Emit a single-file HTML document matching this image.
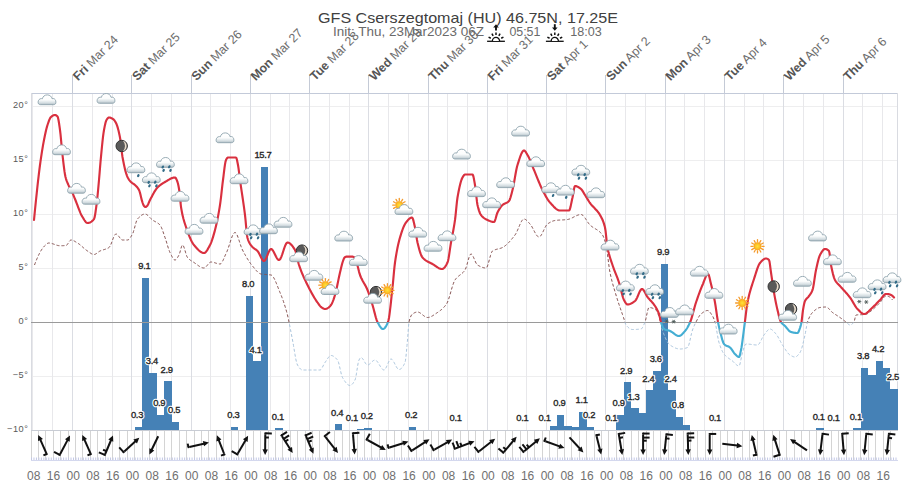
<!DOCTYPE html>
<html><head><meta charset="utf-8"><title>GFS Cserszegtomaj (HU) 46.75N, 17.25E</title>
<style>html,body{margin:0;padding:0;background:#fff;}body{width:907px;height:487px;overflow:hidden;font-family:"Liberation Sans", sans-serif;}svg{display:block;}text{font-family:"Liberation Sans", sans-serif;}</style>
</head><body>
<svg width="907" height="487" viewBox="0 0 907 487">
<defs>
<clipPath id="above"><rect x="0" y="0" width="907" height="322.3"/></clipPath>
<clipPath id="below"><rect x="0" y="322.3" width="907" height="200"/></clipPath>
<linearGradient id="cg" x1="0" y1="0" x2="0" y2="1"><stop offset="0" stop-color="#ffffff"/><stop offset="0.5" stop-color="#fcfdfd"/><stop offset="0.8" stop-color="#d6dfe3"/><stop offset="1" stop-color="#afbdc4"/></linearGradient>
<radialGradient id="sg" cx="0.5" cy="0.5" r="0.5"><stop offset="0" stop-color="#ffe23a"/><stop offset="1" stop-color="#fbb11d"/></radialGradient>
<g id="cloud"><path d="M-6.5,4.7 C-8.2,4.7 -8.9,3.6 -8.9,2.2 C-8.9,0.2 -7.6,-1.4 -5.6,-1.4 C-5.2,-1.4 -4.9,-1.35 -4.6,-1.25 C-4.2,-3.6 -2.3,-5.1 0.3,-5.1 C2.9,-5.1 4.6,-3.5 5.0,-1.3 C5.4,-1.4 5.8,-1.45 6.2,-1.45 C7.9,-1.45 8.9,0.2 8.9,2.2 C8.9,3.6 8.2,4.7 6.5,4.7 Z" fill="url(#cg)" stroke="#8fa4ae" stroke-width="0.9"/></g>
<g id="drop"><ellipse rx="1.15" ry="1.65" transform="rotate(28)" fill="#326b87"/></g>
<g id="ast" stroke="#4d5a58" stroke-width="0.9"><line x1="-2" y1="0" x2="2" y2="0"/><line x1="-1" y1="-1.75" x2="1" y2="1.75"/><line x1="1" y1="-1.75" x2="-1" y2="1.75"/></g>
<g id="sun"><g stroke="#f49a2c" stroke-width="1.3" stroke-linecap="round"><line x1="4.6" y1="0" x2="6.6" y2="0"/><line x1="3.98" y1="2.3" x2="5.72" y2="3.3"/><line x1="2.3" y1="3.98" x2="3.3" y2="5.72"/><line x1="0" y1="4.6" x2="0" y2="6.6"/><line x1="-2.3" y1="3.98" x2="-3.3" y2="5.72"/><line x1="-3.98" y1="2.3" x2="-5.72" y2="3.3"/><line x1="-4.6" y1="0" x2="-6.6" y2="0"/><line x1="-3.98" y1="-2.3" x2="-5.72" y2="-3.3"/><line x1="-2.3" y1="-3.98" x2="-3.3" y2="-5.72"/><line x1="-0" y1="-4.6" x2="-0" y2="-6.6"/><line x1="2.3" y1="-3.98" x2="3.3" y2="-5.72"/><line x1="3.98" y1="-2.3" x2="5.72" y2="-3.3"/></g><circle r="3.7" fill="url(#sg)" stroke="#f7a21f" stroke-width="0.8"/></g>
<g id="moon"><circle r="5.7" fill="#5a5a5a" stroke="#333" stroke-width="1"/><path d="M1.2,-5.2 A5.5,5.5 0 0 1 1.2,5.2 A7.5,7.5 0 0 0 1.2,-5.2 Z" fill="#e9dccb"/></g>
</defs>
<rect width="907" height="487" fill="#fff"/>
<g shape-rendering="crispEdges">
<line x1="31" y1="106.5" x2="898" y2="106.5" stroke="#eeeeef" stroke-width="1"/>
<line x1="31" y1="160.5" x2="898" y2="160.5" stroke="#eeeeef" stroke-width="1"/>
<line x1="31" y1="214.5" x2="898" y2="214.5" stroke="#eeeeef" stroke-width="1"/>
<line x1="31" y1="268.5" x2="898" y2="268.5" stroke="#eeeeef" stroke-width="1"/>
<line x1="31" y1="376.5" x2="898" y2="376.5" stroke="#eeeeef" stroke-width="1"/>
<line x1="31" y1="430.5" x2="898" y2="430.5" stroke="#eeeeef" stroke-width="1"/>
<line x1="32.99" y1="93" x2="32.99" y2="430" stroke="#e8e8eb" stroke-width="1"/>
<line x1="52.74" y1="93" x2="52.74" y2="430" stroke="#e8e8eb" stroke-width="1"/>
<line x1="92.26" y1="93" x2="92.26" y2="430" stroke="#e8e8eb" stroke-width="1"/>
<line x1="112.01" y1="93" x2="112.01" y2="430" stroke="#e8e8eb" stroke-width="1"/>
<line x1="151.53" y1="93" x2="151.53" y2="430" stroke="#e8e8eb" stroke-width="1"/>
<line x1="171.28" y1="93" x2="171.28" y2="430" stroke="#e8e8eb" stroke-width="1"/>
<line x1="210.8" y1="93" x2="210.8" y2="430" stroke="#e8e8eb" stroke-width="1"/>
<line x1="230.55" y1="93" x2="230.55" y2="430" stroke="#e8e8eb" stroke-width="1"/>
<line x1="270.07" y1="93" x2="270.07" y2="430" stroke="#e8e8eb" stroke-width="1"/>
<line x1="289.82" y1="93" x2="289.82" y2="430" stroke="#e8e8eb" stroke-width="1"/>
<line x1="329.34" y1="93" x2="329.34" y2="430" stroke="#e8e8eb" stroke-width="1"/>
<line x1="349.09" y1="93" x2="349.09" y2="430" stroke="#e8e8eb" stroke-width="1"/>
<line x1="388.61" y1="93" x2="388.61" y2="430" stroke="#e8e8eb" stroke-width="1"/>
<line x1="408.36" y1="93" x2="408.36" y2="430" stroke="#e8e8eb" stroke-width="1"/>
<line x1="447.88" y1="93" x2="447.88" y2="430" stroke="#e8e8eb" stroke-width="1"/>
<line x1="467.63" y1="93" x2="467.63" y2="430" stroke="#e8e8eb" stroke-width="1"/>
<line x1="507.15" y1="93" x2="507.15" y2="430" stroke="#e8e8eb" stroke-width="1"/>
<line x1="526.9" y1="93" x2="526.9" y2="430" stroke="#e8e8eb" stroke-width="1"/>
<line x1="566.42" y1="93" x2="566.42" y2="430" stroke="#e8e8eb" stroke-width="1"/>
<line x1="586.17" y1="93" x2="586.17" y2="430" stroke="#e8e8eb" stroke-width="1"/>
<line x1="625.69" y1="93" x2="625.69" y2="430" stroke="#e8e8eb" stroke-width="1"/>
<line x1="645.44" y1="93" x2="645.44" y2="430" stroke="#e8e8eb" stroke-width="1"/>
<line x1="684.96" y1="93" x2="684.96" y2="430" stroke="#e8e8eb" stroke-width="1"/>
<line x1="704.71" y1="93" x2="704.71" y2="430" stroke="#e8e8eb" stroke-width="1"/>
<line x1="744.23" y1="93" x2="744.23" y2="430" stroke="#e8e8eb" stroke-width="1"/>
<line x1="763.98" y1="93" x2="763.98" y2="430" stroke="#e8e8eb" stroke-width="1"/>
<line x1="803.5" y1="93" x2="803.5" y2="430" stroke="#e8e8eb" stroke-width="1"/>
<line x1="823.25" y1="93" x2="823.25" y2="430" stroke="#e8e8eb" stroke-width="1"/>
<line x1="862.77" y1="93" x2="862.77" y2="430" stroke="#e8e8eb" stroke-width="1"/>
<line x1="882.52" y1="93" x2="882.52" y2="430" stroke="#e8e8eb" stroke-width="1"/>
<line x1="72.5" y1="75" x2="72.5" y2="93" stroke="#c4cad6" stroke-width="1"/>
<line x1="72.5" y1="93" x2="72.5" y2="430" stroke="#dbdde3" stroke-width="1"/>
<line x1="131.77" y1="75" x2="131.77" y2="93" stroke="#c4cad6" stroke-width="1"/>
<line x1="131.77" y1="93" x2="131.77" y2="430" stroke="#dbdde3" stroke-width="1"/>
<line x1="191.04" y1="75" x2="191.04" y2="93" stroke="#c4cad6" stroke-width="1"/>
<line x1="191.04" y1="93" x2="191.04" y2="430" stroke="#dbdde3" stroke-width="1"/>
<line x1="250.31" y1="75" x2="250.31" y2="93" stroke="#c4cad6" stroke-width="1"/>
<line x1="250.31" y1="93" x2="250.31" y2="430" stroke="#dbdde3" stroke-width="1"/>
<line x1="309.58" y1="75" x2="309.58" y2="93" stroke="#c4cad6" stroke-width="1"/>
<line x1="309.58" y1="93" x2="309.58" y2="430" stroke="#dbdde3" stroke-width="1"/>
<line x1="368.85" y1="75" x2="368.85" y2="93" stroke="#c4cad6" stroke-width="1"/>
<line x1="368.85" y1="93" x2="368.85" y2="430" stroke="#dbdde3" stroke-width="1"/>
<line x1="428.12" y1="75" x2="428.12" y2="93" stroke="#c4cad6" stroke-width="1"/>
<line x1="428.12" y1="93" x2="428.12" y2="430" stroke="#dbdde3" stroke-width="1"/>
<line x1="487.39" y1="75" x2="487.39" y2="93" stroke="#c4cad6" stroke-width="1"/>
<line x1="487.39" y1="93" x2="487.39" y2="430" stroke="#dbdde3" stroke-width="1"/>
<line x1="546.66" y1="75" x2="546.66" y2="93" stroke="#c4cad6" stroke-width="1"/>
<line x1="546.66" y1="93" x2="546.66" y2="430" stroke="#dbdde3" stroke-width="1"/>
<line x1="605.93" y1="75" x2="605.93" y2="93" stroke="#c4cad6" stroke-width="1"/>
<line x1="605.93" y1="93" x2="605.93" y2="430" stroke="#dbdde3" stroke-width="1"/>
<line x1="665.2" y1="75" x2="665.2" y2="93" stroke="#c4cad6" stroke-width="1"/>
<line x1="665.2" y1="93" x2="665.2" y2="430" stroke="#dbdde3" stroke-width="1"/>
<line x1="724.47" y1="75" x2="724.47" y2="93" stroke="#c4cad6" stroke-width="1"/>
<line x1="724.47" y1="93" x2="724.47" y2="430" stroke="#dbdde3" stroke-width="1"/>
<line x1="783.74" y1="75" x2="783.74" y2="93" stroke="#c4cad6" stroke-width="1"/>
<line x1="783.74" y1="93" x2="783.74" y2="430" stroke="#dbdde3" stroke-width="1"/>
<line x1="843.01" y1="75" x2="843.01" y2="93" stroke="#c4cad6" stroke-width="1"/>
<line x1="843.01" y1="93" x2="843.01" y2="430" stroke="#dbdde3" stroke-width="1"/>
<line x1="31" y1="93.5" x2="898" y2="93.5" stroke="#c3cad9" stroke-width="1"/>
<line x1="31.5" y1="93" x2="31.5" y2="430" stroke="#d9dbe1" stroke-width="1"/>
<line x1="897.5" y1="93" x2="897.5" y2="430" stroke="#d9dbe1" stroke-width="1"/>
</g>
<g fill="#4581b6" shape-rendering="crispEdges">
<rect x="134.59" y="426.65" width="7.46" height="3.35"/>
<rect x="142" y="277.58" width="7.46" height="152.42"/>
<rect x="149.41" y="373.05" width="7.46" height="56.95"/>
<rect x="156.82" y="414.93" width="7.46" height="15.08"/>
<rect x="164.23" y="381.43" width="7.46" height="48.57"/>
<rect x="171.64" y="421.62" width="7.46" height="8.38"/>
<rect x="230.92" y="426.65" width="7.46" height="3.35"/>
<rect x="245.74" y="296" width="7.46" height="134"/>
<rect x="253.15" y="361.32" width="7.46" height="68.67"/>
<rect x="260.56" y="167.03" width="7.46" height="262.97"/>
<rect x="275.38" y="428.32" width="7.46" height="1.68"/>
<rect x="334.66" y="424.47" width="7.46" height="5.53"/>
<rect x="356.89" y="428.83" width="7.46" height="1.17"/>
<rect x="364.3" y="427.82" width="7.46" height="2.18"/>
<rect x="408.76" y="426.99" width="7.46" height="3.01"/>
<rect x="549.55" y="425.81" width="7.46" height="4.19"/>
<rect x="556.96" y="414.93" width="7.46" height="15.08"/>
<rect x="564.37" y="425.81" width="7.46" height="4.19"/>
<rect x="571.78" y="427.15" width="7.46" height="2.85"/>
<rect x="579.19" y="411.57" width="7.46" height="18.43"/>
<rect x="586.6" y="426.65" width="7.46" height="3.35"/>
<rect x="616.24" y="414.93" width="7.46" height="15.08"/>
<rect x="623.65" y="382.26" width="7.46" height="47.74"/>
<rect x="631.06" y="408.23" width="7.46" height="21.78"/>
<rect x="638.47" y="413.25" width="7.46" height="16.75"/>
<rect x="645.88" y="390.3" width="7.46" height="39.7"/>
<rect x="653.29" y="370.87" width="7.46" height="59.13"/>
<rect x="660.7" y="264.17" width="7.46" height="165.83"/>
<rect x="668.11" y="390.3" width="7.46" height="39.7"/>
<rect x="675.52" y="416.6" width="7.46" height="13.4"/>
<rect x="682.93" y="424.98" width="7.46" height="5.02"/>
<rect x="816.31" y="428.32" width="7.46" height="1.68"/>
<rect x="853.36" y="428.32" width="7.46" height="1.68"/>
<rect x="860.77" y="367.69" width="7.46" height="62.31"/>
<rect x="868.18" y="374.73" width="7.46" height="55.27"/>
<rect x="875.59" y="360.99" width="7.46" height="69.01"/>
<rect x="883" y="368.02" width="7.46" height="61.98"/>
<rect x="890.41" y="388.8" width="7.46" height="41.2"/>
</g>
<line x1="31" y1="322.3" x2="898" y2="322.3" stroke="#9a9a9a" stroke-width="1" shape-rendering="crispEdges"/>
<line x1="31" y1="430.5" x2="898" y2="430.5" stroke="#c8ccd4" stroke-width="1" shape-rendering="crispEdges"/>
<path d="M34.5,265 L35,263.65 L35.5,262.34 L36,261.07 L36.5,259.84 L37,258.66 L37.5,257.51 L38,256.4 L38.5,255.34 L39,254.31 L39.5,253.33 L40,252.4 L40.5,251.5 L41,250.65 L41.5,249.85 L42,249.09 L42.5,248.38 L43,247.71 L43.5,247.08 L44,246.51 L44.5,245.98 L45,245.5 L45.5,245.04 L46,244.57 L46.5,244.13 L47,243.73 L47.5,243.39 L48,243.15 L48.5,243.02 L49,243 L49.5,243.04 L50,243.09 L50.5,243.18 L51,243.29 L51.5,243.41 L52,243.56 L52.5,243.71 L53,243.88 L53.5,244.06 L54,244.24 L54.5,244.42 L55,244.6 L55.5,244.78 L56,244.95 L56.5,245.12 L57,245.27 L57.5,245.4 L58,245.52 L58.5,245.62 L59,245.69 L59.5,245.73 L60,245.75 L60.5,245.75 L61,245.74 L61.5,245.73 L62,245.72 L62.5,245.71 L63,245.69 L63.5,245.66 L64,245.64 L64.5,245.61 L65,245.58 L65.5,245.54 L66,245.5 L66.5,245.31 L67,244.88 L67.5,244.25 L68,243.5 L68.5,242.7 L69,241.9 L69.5,241.16 L70,240.56 L70.5,240.15 L71,240 L71.5,240.03 L72,240.12 L72.5,240.25 L73,240.43 L73.5,240.65 L74,240.9 L74.5,241.17 L75,241.47 L75.5,241.77 L76,242.08 L76.5,242.4 L77,242.7 L77.5,243 L78,243.3 L78.5,243.63 L79,243.99 L79.5,244.36 L80,244.76 L80.5,245.17 L81,245.6 L81.5,246.03 L82,246.48 L82.5,246.92 L83,247.37 L83.5,247.82 L84,248.26 L84.5,248.7 L85,249.13 L85.5,249.54 L86,249.94 L86.5,250.31 L87,250.67 L87.5,251 L88,251.33 L88.5,251.68 L89,252.04 L89.5,252.4 L90,252.76 L90.5,253.1 L91,253.42 L91.5,253.72 L92,253.98 L92.5,254.2 L93,254.36 L93.5,254.46 L94,254.5 L94.5,254.45 L95,254.31 L95.5,254.09 L96,253.8 L96.5,253.47 L97,253.1 L97.5,252.72 L98,252.33 L98.5,251.95 L99,251.59 L99.5,251.27 L100,251 L100.5,250.78 L101,250.57 L101.5,250.39 L102,250.22 L102.5,250.06 L103,249.91 L103.5,249.76 L104,249.61 L104.5,249.47 L105,249.31 L105.5,249.15 L106,248.98 L106.5,248.79 L107,248.58 L107.5,248.35 L108,248.1 L108.5,247.82 L109,247.5 L109.5,247.02 L110,246.26 L110.5,245.29 L111,244.14 L111.5,242.88 L112,241.53 L112.5,240.17 L113,238.82 L113.5,237.55 L114,236.4 L114.5,235.43 L115,234.67 L115.5,234.17 L116,234 L116.5,234.1 L117,234.38 L117.5,234.81 L118,235.35 L118.5,235.98 L119,236.65 L119.5,237.35 L120,238.02 L120.5,238.65 L121,239.19 L121.5,239.62 L122,239.9 L122.5,240 L123,240 L123.5,240 L124,240 L124.5,240 L125,240 L125.5,240 L126,240 L126.5,240 L127,240 L127.5,240 L128,239.91 L128.5,239.65 L129,239.24 L129.5,238.71 L130,238.07 L130.5,237.35 L131,236.56 L131.5,235.72 L132,234.86 L132.5,234 L133,232.94 L133.5,231.53 L134,229.86 L134.5,228.03 L135,226.14 L135.5,224.28 L136,222.54 L136.5,221.01 L137,219.8 L137.5,219 L138,218.44 L138.5,217.9 L139,217.39 L139.5,216.9 L140,216.44 L140.5,216.01 L141,215.62 L141.5,215.26 L142,214.94 L142.5,214.66 L143,214.43 L143.5,214.25 L144,214.11 L144.5,214.03 L145,214 L145.5,214.05 L146,214.21 L146.5,214.45 L147,214.77 L147.5,215.15 L148,215.59 L148.5,216.07 L149,216.58 L149.5,217.1 L150,217.64 L150.5,218.17 L151,218.68 L151.5,219.16 L152,219.61 L152.5,220 L153,220.35 L153.5,220.66 L154,220.96 L154.5,221.23 L155,221.5 L155.5,221.76 L156,222.02 L156.5,222.29 L157,222.58 L157.5,222.89 L158,223.23 L158.5,223.6 L159,224.02 L159.5,224.48 L160,225 L160.5,225.67 L161,226.56 L161.5,227.65 L162,228.88 L162.5,230.23 L163,231.66 L163.5,233.14 L164,234.63 L164.5,236.09 L165,237.5 L165.5,238.93 L166,240.49 L166.5,242.11 L167,243.78 L167.5,245.45 L168,247.09 L168.5,248.65 L169,250.1 L169.5,251.39 L170,252.5 L170.5,253.52 L171,254.56 L171.5,255.59 L172,256.58 L172.5,257.5 L173,258.32 L173.5,259.01 L174,259.54 L174.5,259.88 L175,260 L175.5,259.88 L176,259.55 L176.5,259.03 L177,258.38 L177.5,257.61 L178,256.77 L178.5,255.89 L179,255 L179.5,253.8 L180,252.12 L180.5,250.2 L181,248.29 L181.5,246.62 L182,245.45 L182.5,245 L183,245.3 L183.5,246.11 L184,247.32 L184.5,248.82 L185,250.5 L185.5,252.23 L186,253.91 L186.5,255.43 L187,256.66 L187.5,257.5 L188,258.07 L188.5,258.6 L189,259.07 L189.5,259.51 L190,259.91 L190.5,260.28 L191,260.62 L191.5,260.95 L192,261.26 L192.5,261.57 L193,261.87 L193.5,262.18 L194,262.5 L194.5,262.83 L195,263.18 L195.5,263.54 L196,263.9 L196.5,264.27 L197,264.64 L197.5,265.01 L198,265.37 L198.5,265.72 L199,266.06 L199.5,266.38 L200,266.69 L200.5,266.97 L201,267.22 L201.5,267.44 L202,267.64 L202.5,267.79 L203,267.9 L203.5,267.98 L204,268 L204.5,267.91 L205,267.67 L205.5,267.29 L206,266.81 L206.5,266.25 L207,265.64 L207.5,265 L208,264.36 L208.5,263.75 L209,263.19 L209.5,262.71 L210,262.33 L210.5,262.09 L211,262 L211.5,262.02 L212,262.07 L212.5,262.15 L213,262.25 L213.5,262.38 L214,262.52 L214.5,262.67 L215,262.83 L215.5,263 L216,263.17 L216.5,263.33 L217,263.48 L217.5,263.62 L218,263.75 L218.5,263.85 L219,263.93 L219.5,263.98 L220,264 L220.5,263.88 L221,263.53 L221.5,262.98 L222,262.26 L222.5,261.39 L223,260.41 L223.5,259.33 L224,258.2 L224.5,257.02 L225,255.84 L225.5,254.67 L226,253.55 L226.5,252.5 L227,251.41 L227.5,250.17 L228,248.81 L228.5,247.35 L229,245.83 L229.5,244.26 L230,242.69 L230.5,241.13 L231,239.62 L231.5,238.18 L232,236.84 L232.5,235.63 L233,234.58 L233.5,233.71 L234,233.06 L234.5,232.64 L235,232.5 L235.5,232.66 L236,233.13 L236.5,233.86 L237,234.82 L237.5,235.97 L238,237.28 L238.5,238.71 L239,240.22 L239.5,241.77 L240,243.33 L240.5,244.87 L241,246.34 L241.5,247.71 L242,248.94 L242.5,250 L243,250.95 L243.5,251.89 L244,252.82 L244.5,253.74 L245,254.64 L245.5,255.53 L246,256.4 L246.5,257.26 L247,258.1 L247.5,258.92 L248,259.73 L248.5,260.51 L249,261.28 L249.5,262.02 L250,262.74 L250.5,263.44 L251,264.12 L251.5,264.77 L252,265.4 L252.5,266 L253,266.6 L253.5,267.2 L254,267.82 L254.5,268.43 L255,269.04 L255.5,269.64 L256,270.22 L256.5,270.78 L257,271.32 L257.5,271.82 L258,272.29 L258.5,272.71 L259,273.09 L259.5,273.41 L260,273.67 L260.5,273.87 L261,274 L261.5,274.09 L262,274.16 L262.5,274.22 L263,274.28 L263.5,274.33 L264,274.37 L264.5,274.4 L265,274.43 L265.5,274.46 L266,274.49 L266.5,274.52 L267,274.55 L267.5,274.58 L268,274.62 L268.5,274.66 L269,274.71 L269.5,274.77 L270,274.83 L270.5,274.91 L271,275 L271.5,275.18 L272,275.52 L272.5,276 L273,276.62 L273.5,277.36 L274,278.21 L274.5,279.16 L275,280.19 L275.5,281.3 L276,282.46 L276.5,283.68 L277,284.93 L277.5,286.2 L278,287.48 L278.5,288.77 L279,290.04 L279.5,291.29 L280,292.5 L280.5,293.7 L281,294.93 L281.5,296.2 L282,297.5 L282.5,298.84 L283,300.22 L283.5,301.65 L284,303.12 L284.5,304.65 L285,306.22 L285.5,307.85 L286,309.55 L286.5,311.3 L287,313.12 L287.5,315 L288,317.13 L288.5,319.53 L289,322 L289.5,324.47 L290,327.01 L290.5,329.6 L291,332.22 L291.5,334.83 L292,337.44 L292.5,340 L293,342.68 L293.5,345.58 L294,348.6 L294.5,351.65 L295,354.63 L295.5,357.44 L296,359.97 L296.5,362.15 L297,363.85 L297.5,365 L298,365.81 L298.5,366.59 L299,367.31 L299.5,367.96 L300,368.54 L300.5,369.04 L301,369.44 L301.5,369.75 L302,369.94 L302.5,370 L303,370 L303.5,370 L304,370 L304.5,370 L305,370 L305.5,370 L306,370 L306.5,370 L307,370 L307.5,370 L308,370 L308.5,370 L309,370 L309.5,370 L310,370 L310.5,370 L311,370 L311.5,370 L312,370 L312.5,370 L313,370 L313.5,370 L314,370 L314.5,370 L315,370 L315.5,370 L316,370 L316.5,370 L317,370 L317.5,370 L318,370 L318.5,370 L319,370 L319.5,370 L320,370 L320.5,369.85 L321,369.43 L321.5,368.8 L322,367.99 L322.5,367.07 L323,366.09 L323.5,365.09 L324,364.12 L324.5,363.24 L325,362.5 L325.5,361.81 L326,361.07 L326.5,360.29 L327,359.51 L327.5,358.75 L328,358.01 L328.5,357.33 L329,356.73 L329.5,356.22 L330,355.84 L330.5,355.59 L331,355.5 L331.5,355.53 L332,355.63 L332.5,355.79 L333,356.01 L333.5,356.28 L334,356.6 L334.5,356.97 L335,357.39 L335.5,357.84 L336,358.33 L336.5,358.86 L337,359.42 L337.5,360 L338,360.9 L338.5,362.31 L339,364.12 L339.5,366.2 L340,368.43 L340.5,370.69 L341,372.85 L341.5,374.79 L342,376.38 L342.5,377.5 L343,378.34 L343.5,379.16 L344,379.96 L344.5,380.73 L345,381.46 L345.5,382.15 L346,382.79 L346.5,383.38 L347,383.9 L347.5,384.37 L348,384.76 L348.5,385.07 L349,385.31 L349.5,385.45 L350,385.5 L350.5,385.43 L351,385.22 L351.5,384.89 L352,384.45 L352.5,383.9 L353,383.27 L353.5,382.55 L354,381.75 L354.5,380.9 L355,380 L355.5,378.54 L356,376.19 L356.5,373.25 L357,370.01 L357.5,366.78 L358,363.83 L358.5,361.48 L359,360 L359.5,359.08 L360,358.28 L360.5,357.71 L361,357.5 L361.5,357.63 L362,357.98 L362.5,358.51 L363,359.19 L363.5,359.97 L364,360.82 L364.5,361.68 L365,362.53 L365.5,363.31 L366,363.99 L366.5,364.52 L367,364.87 L367.5,365 L368,364.94 L368.5,364.76 L369,364.48 L369.5,364.12 L370,363.7 L370.5,363.24 L371,362.75 L371.5,362.25 L372,361.76 L372.5,361.3 L373,360.88 L373.5,360.52 L374,360.24 L374.5,360.06 L375,360 L375.5,360.09 L376,360.34 L376.5,360.74 L377,361.26 L377.5,361.89 L378,362.59 L378.5,363.36 L379,364.17 L379.5,365 L380,365.83 L380.5,366.64 L381,367.41 L381.5,368.11 L382,368.74 L382.5,369.26 L383,369.66 L383.5,369.91 L384,370 L384.5,369.84 L385,369.39 L385.5,368.7 L386,367.82 L386.5,366.79 L387,365.67 L387.5,364.5 L388,363.33 L388.5,362.21 L389,361.18 L389.5,360.3 L390,359.61 L390.5,359.16 L391,359 L391.5,359.12 L392,359.45 L392.5,359.97 L393,360.64 L393.5,361.44 L394,362.32 L394.5,363.27 L395,364.25 L395.5,365.23 L396,366.18 L396.5,367.06 L397,367.86 L397.5,368.53 L398,369.05 L398.5,369.38 L399,369.5 L399.5,369.45 L400,369.3 L400.5,369.06 L401,368.71 L401.5,368.27 L402,367.73 L402.5,367.1 L403,366.37 L403.5,365.54 L404,364.62 L404.5,363.61 L405,362.5 L405.5,360.25 L406,356.25 L406.5,351.11 L407,345.49 L407.5,340 L408,333.49 L408.5,326.45 L409,322 L409.5,320.05 L410,318.4 L410.5,317.04 L411,315.95 L411.5,315.09 L412,314.45 L412.5,314 L413,313.66 L413.5,313.34 L414,313.05 L414.5,312.78 L415,312.56 L415.5,312.36 L416,312.21 L416.5,312.09 L417,312.02 L417.5,312 L418,312.04 L418.5,312.15 L419,312.33 L419.5,312.57 L420,312.86 L420.5,313.19 L421,313.55 L421.5,313.94 L422,314.34 L422.5,314.75 L423,315.16 L423.5,315.56 L424,315.95 L424.5,316.31 L425,316.64 L425.5,316.93 L426,317.17 L426.5,317.35 L427,317.46 L427.5,317.5 L428,317.48 L428.5,317.42 L429,317.32 L429.5,317.19 L430,317.03 L430.5,316.83 L431,316.61 L431.5,316.37 L432,316.11 L432.5,315.82 L433,315.52 L433.5,315.21 L434,314.88 L434.5,314.55 L435,314.21 L435.5,313.86 L436,313.52 L436.5,313.17 L437,312.83 L437.5,312.5 L438,312.17 L438.5,311.83 L439,311.48 L439.5,311.12 L440,310.75 L440.5,310.37 L441,309.97 L441.5,309.55 L442,309.11 L442.5,308.65 L443,308.17 L443.5,307.66 L444,307.13 L444.5,306.57 L445,305.97 L445.5,305.35 L446,304.69 L446.5,304 L447,303.17 L447.5,302.13 L448,300.9 L448.5,299.51 L449,298 L449.5,296.38 L450,294.69 L450.5,292.95 L451,291.2 L451.5,289.46 L452,287.76 L452.5,286.13 L453,284.6 L453.5,283.19 L454,281.94 L454.5,280.86 L455,280 L455.5,279.29 L456,278.64 L456.5,278.06 L457,277.53 L457.5,277.04 L458,276.59 L458.5,276.17 L459,275.78 L459.5,275.39 L460,275.02 L460.5,274.64 L461,274.26 L461.5,273.86 L462,273.44 L462.5,272.99 L463,272.5 L463.5,271.96 L464,271.37 L464.5,270.72 L465,270 L465.5,269.05 L466,267.76 L466.5,266.22 L467,264.51 L467.5,262.7 L468,260.87 L468.5,259.1 L469,257.48 L469.5,256.07 L470,254.98 L470.5,254.26 L471,254 L471.5,254.16 L472,254.62 L472.5,255.33 L473,256.23 L473.5,257.27 L474,258.42 L474.5,259.61 L475,260.8 L475.5,261.94 L476,262.98 L476.5,263.87 L477,264.56 L477.5,265 L478,265.3 L478.5,265.58 L479,265.86 L479.5,266.12 L480,266.38 L480.5,266.61 L481,266.84 L481.5,267.04 L482,267.23 L482.5,267.4 L483,267.55 L483.5,267.69 L484,267.8 L484.5,267.88 L485,267.95 L485.5,267.99 L486,268 L486.5,267.74 L487,267 L487.5,265.88 L488,264.44 L488.5,262.78 L489,260.97 L489.5,259.09 L490,257.23 L490.5,255.46 L491,253.88 L491.5,252.55 L492,251.56 L492.5,251 L493,250.69 L493.5,250.42 L494,250.18 L494.5,249.96 L495,249.77 L495.5,249.61 L496,249.45 L496.5,249.32 L497,249.19 L497.5,249.07 L498,248.95 L498.5,248.84 L499,248.72 L499.5,248.59 L500,248.46 L500.5,248.31 L501,248.14 L501.5,247.95 L502,247.74 L502.5,247.5 L503,247.23 L503.5,246.94 L504,246.62 L504.5,246.27 L505,245.9 L505.5,245.51 L506,245.1 L506.5,244.67 L507,244.21 L507.5,243.74 L508,243.25 L508.5,242.74 L509,242.22 L509.5,241.68 L510,241.13 L510.5,240.56 L511,239.98 L511.5,239.39 L512,238.79 L512.5,238.18 L513,237.55 L513.5,236.93 L514,236.29 L514.5,235.65 L515,235 L515.5,234.28 L516,233.42 L516.5,232.46 L517,231.41 L517.5,230.29 L518,229.12 L518.5,227.92 L519,226.72 L519.5,225.54 L520,224.39 L520.5,223.3 L521,222.28 L521.5,221.37 L522,220.57 L522.5,219.91 L523,219.42 L523.5,219.11 L524,219 L524.5,219.06 L525,219.23 L525.5,219.49 L526,219.83 L526.5,220.25 L527,220.72 L527.5,221.24 L528,221.78 L528.5,222.34 L529,222.91 L529.5,223.47 L530,224 L530.5,224.58 L531,225.27 L531.5,226.04 L532,226.9 L532.5,227.81 L533,228.75 L533.5,229.73 L534,230.7 L534.5,231.67 L535,232.6 L535.5,233.49 L536,234.32 L536.5,235.07 L537,235.72 L537.5,236.25 L538,236.66 L538.5,236.91 L539,237 L539.5,236.89 L540,236.58 L540.5,236.08 L541,235.43 L541.5,234.65 L542,233.77 L542.5,232.8 L543,231.78 L543.5,230.72 L544,229.65 L544.5,228.6 L545,227.59 L545.5,226.65 L546,225.79 L546.5,225.05 L547,224.44 L547.5,224 L548,223.65 L548.5,223.32 L549,222.99 L549.5,222.68 L550,222.39 L550.5,222.11 L551,221.85 L551.5,221.6 L552,221.38 L552.5,221.18 L553,220.99 L553.5,220.83 L554,220.7 L554.5,220.59 L555,220.5 L555.5,220.43 L556,220.37 L556.5,220.31 L557,220.26 L557.5,220.22 L558,220.17 L558.5,220.14 L559,220.1 L559.5,220.07 L560,220.04 L560.5,220.02 L561,219.99 L561.5,219.96 L562,219.94 L562.5,219.91 L563,219.89 L563.5,219.86 L564,219.83 L564.5,219.79 L565,219.75 L565.5,219.71 L566,219.67 L566.5,219.62 L567,219.56 L567.5,219.5 L568,219.42 L568.5,219.31 L569,219.17 L569.5,219.01 L570,218.83 L570.5,218.63 L571,218.42 L571.5,218.18 L572,217.94 L572.5,217.69 L573,217.43 L573.5,217.17 L574,216.91 L574.5,216.65 L575,216.39 L575.5,216.14 L576,215.9 L576.5,215.67 L577,215.45 L577.5,215.25 L578,215.06 L578.5,214.9 L579,214.76 L579.5,214.65 L580,214.57 L580.5,214.52 L581,214.5 L581.5,214.57 L582,214.77 L582.5,215.08 L583,215.49 L583.5,216 L584,216.58 L584.5,217.23 L585,217.93 L585.5,218.67 L586,219.44 L586.5,220.22 L587,221 L587.5,221.77 L588,222.51 L588.5,223.22 L589,223.88 L589.5,224.48 L590,225 L590.5,225.46 L591,225.89 L591.5,226.29 L592,226.66 L592.5,227.02 L593,227.35 L593.5,227.67 L594,227.97 L594.5,228.27 L595,228.57 L595.5,228.86 L596,229.16 L596.5,229.47 L597,229.78 L597.5,230.12 L598,230.46 L598.5,230.83 L599,231.23 L599.5,231.65 L600,232.11 L600.5,232.6 L601,233.13 L601.5,233.71 L602,234.33 L602.5,235 L603,235.82 L603.5,236.88 L604,238.15 L604.5,239.62 L605,241.26 L605.5,243.06 L606,245 L606.5,247.44 L607,250.62 L607.5,254.3 L608,258.28 L608.5,262.3 L609,266.17 L609.5,269.64 L610,272.5 L610.5,274.89 L611,277.14 L611.5,279.25 L612,281.24 L612.5,283.14 L613,284.95 L613.5,286.69 L614,288.39 L614.5,290.05 L615,291.69 L615.5,293.34 L616,295 L616.5,296.65 L617,298.27 L617.5,299.85 L618,301.39 L618.5,302.91 L619,304.41 L619.5,305.89 L620,307.35 L620.5,308.8 L621,310.25 L621.5,311.69 L622,313.13 L622.5,314.58 L623,316.04 L623.5,317.51 L624,319 L624.5,320.66 L625,322.43 L625.5,323.99 L626,325 L626.5,325.61 L627,326.19 L627.5,326.73 L628,327.23 L628.5,327.68 L629,328.09 L629.5,328.45 L630,328.76 L630.5,329.02 L631,329.23 L631.5,329.38 L632,329.47 L632.5,329.5 L633,329.5 L633.5,329.49 L634,329.49 L634.5,329.48 L635,329.46 L635.5,329.44 L636,329.42 L636.5,329.4 L637,329.37 L637.5,329.34 L638,329.3 L638.5,329.26 L639,329.22 L639.5,329.17 L640,329.12 L640.5,329.06 L641,329 L641.5,328.78 L642,328.28 L642.5,327.54 L643,326.62 L643.5,325.55 L644,324.4 L644.5,323.2 L645,322 L645.5,320.47 L646,318.41 L646.5,316.03 L647,313.57 L647.5,311.26 L648,309.32 L648.5,307.99 L649,307.5 L649.5,307.51 L650,307.56 L650.5,307.63 L651,307.72 L651.5,307.84 L652,307.99 L652.5,308.16 L653,308.36 L653.5,308.58 L654,308.82 L654.5,309.08 L655,309.37 L655.5,309.67 L656,310 L656.5,310.52 L657,311.36 L657.5,312.46 L658,313.78 L658.5,315.25 L659,316.81 L659.5,318.42 L660,320 L660.5,321.78 L661,323.9 L661.5,326.17 L662,328.4 L662.5,330.4 L663,332 L663.5,333.32 L664,334.6 L664.5,335.83 L665,337.02 L665.5,338.15 L666,339.23 L666.5,340.23 L667,341.17 L667.5,342.03 L668,342.81 L668.5,343.5 L669,344.1 L669.5,344.6 L670,345 L670.5,345.34 L671,345.67 L671.5,345.98 L672,346.29 L672.5,346.59 L673,346.87 L673.5,347.14 L674,347.39 L674.5,347.63 L675,347.86 L675.5,348.06 L676,348.25 L676.5,348.42 L677,348.57 L677.5,348.7 L678,348.8 L678.5,348.89 L679,348.95 L679.5,348.99 L680,349 L680.5,348.99 L681,348.97 L681.5,348.94 L682,348.89 L682.5,348.83 L683,348.76 L683.5,348.68 L684,348.58 L684.5,348.46 L685,348.34 L685.5,348.2 L686,348.04 L686.5,347.88 L687,347.69 L687.5,347.5 L688,346.97 L688.5,345.86 L689,344.28 L689.5,342.36 L690,340.21 L690.5,337.93 L691,335.66 L691.5,333.5 L692,331.58 L692.5,330 L693,328.67 L693.5,327.41 L694,326.21 L694.5,325.08 L695,324 L695.5,322.97 L696,322 L696.5,321.04 L697,320.08 L697.5,319.13 L698,318.21 L698.5,317.33 L699,316.5 L699.5,315.73 L700,315.05 L700.5,314.47 L701,314 L701.5,313.59 L702,313.19 L702.5,312.8 L703,312.42 L703.5,312.07 L704,311.74 L704.5,311.43 L705,311.17 L705.5,310.94 L706,310.75 L706.5,310.62 L707,310.53 L707.5,310.5 L708,310.58 L708.5,310.82 L709,311.19 L709.5,311.68 L710,312.27 L710.5,312.93 L711,313.66 L711.5,314.42 L712,315.21 L712.5,316 L713,316.87 L713.5,317.92 L714,319.12 L714.5,320.48 L715,322 L715.5,323.92 L716,326.39 L716.5,329.22 L717,332.23 L717.5,335.24 L718,338.08 L718.5,340.56 L719,342.5 L719.5,344.07 L720,345.55 L720.5,346.95 L721,348.26 L721.5,349.47 L722,350.59 L722.5,351.6 L723,352.51 L723.5,353.31 L724,354 L724.5,354.61 L725,355.17 L725.5,355.69 L726,356.17 L726.5,356.62 L727,357.04 L727.5,357.44 L728,357.82 L728.5,358.18 L729,358.53 L729.5,358.87 L730,359.21 L730.5,359.55 L731,359.89 L731.5,360.25 L732,360.61 L732.5,361 L733,361.42 L733.5,361.89 L734,362.38 L734.5,362.89 L735,363.4 L735.5,363.9 L736,364.38 L736.5,364.82 L737,365.21 L737.5,365.54 L738,365.78 L738.5,365.94 L739,366 L739.5,365.43 L740,363.93 L740.5,361.78 L741,359.27 L741.5,356.7 L742,354.34 L742.5,352.5 L743,350.93 L743.5,349.29 L744,347.69 L744.5,346.25 L745,345.08 L745.5,344.29 L746,344 L746.5,344.01 L747,344.02 L747.5,344.05 L748,344.08 L748.5,344.12 L749,344.17 L749.5,344.22 L750,344.28 L750.5,344.34 L751,344.4 L751.5,344.47 L752,344.53 L752.5,344.6 L753,344.66 L753.5,344.72 L754,344.78 L754.5,344.83 L755,344.88 L755.5,344.92 L756,344.95 L756.5,344.98 L757,344.99 L757.5,345 L758,344.87 L758.5,344.52 L759,343.97 L759.5,343.26 L760,342.42 L760.5,341.48 L761,340.48 L761.5,339.44 L762,338.42 L762.5,337.42 L763,336.5 L763.5,335.68 L764,335 L764.5,334.37 L765,333.72 L765.5,333.04 L766,332.37 L766.5,331.71 L767,331.09 L767.5,330.52 L768,330.02 L768.5,329.6 L769,329.28 L769.5,329.07 L770,329 L770.5,329.06 L771,329.22 L771.5,329.47 L772,329.8 L772.5,330.21 L773,330.67 L773.5,331.17 L774,331.72 L774.5,332.28 L775,332.86 L775.5,333.43 L776,334 L776.5,334.61 L777,335.3 L777.5,336.08 L778,336.91 L778.5,337.8 L779,338.72 L779.5,339.66 L780,340.61 L780.5,341.56 L781,342.48 L781.5,343.37 L782,344.22 L782.5,345 L783,345.76 L783.5,346.54 L784,347.33 L784.5,348.13 L785,348.92 L785.5,349.71 L786,350.47 L786.5,351.21 L787,351.92 L787.5,352.58 L788,353.19 L788.5,353.75 L789,354.24 L789.5,354.66 L790,355 L790.5,355.3 L791,355.59 L791.5,355.87 L792,356.13 L792.5,356.37 L793,356.58 L793.5,356.76 L794,356.89 L794.5,356.97 L795,357 L795.5,356.94 L796,356.76 L796.5,356.48 L797,356.1 L797.5,355.64 L798,355.11 L798.5,354.52 L799,353.88 L799.5,353.21 L800,352.5 L800.5,351.62 L801,350.45 L801.5,349.01 L802,347.36 L802.5,345.53 L803,343.55 L803.5,341.47 L804,339.33 L804.5,337.16 L805,335 L805.5,332.51 L806,329.59 L806.5,326.61 L807,323.95 L807.5,322 L808,320.59 L808.5,319.3 L809,318.11 L809.5,317.03 L810,316.05 L810.5,315.17 L811,314.38 L811.5,313.67 L812,313.05 L812.5,312.5 L813,312 L813.5,311.51 L814,311.04 L814.5,310.58 L815,310.15 L815.5,309.74 L816,309.36 L816.5,309.01 L817,308.68 L817.5,308.39 L818,308.13 L818.5,307.91 L819,307.73 L819.5,307.59 L820,307.5 L820.5,307.43 L821,307.36 L821.5,307.3 L822,307.24 L822.5,307.19 L823,307.14 L823.5,307.1 L824,307.07 L824.5,307.04 L825,307.02 L825.5,307 L826,307 L826.5,307.07 L827,307.25 L827.5,307.54 L828,307.92 L828.5,308.37 L829,308.88 L829.5,309.42 L830,309.98 L830.5,310.54 L831,311.09 L831.5,311.61 L832,312.09 L832.5,312.5 L833,312.87 L833.5,313.22 L834,313.57 L834.5,313.9 L835,314.23 L835.5,314.56 L836,314.88 L836.5,315.2 L837,315.51 L837.5,315.83 L838,316.15 L838.5,316.48 L839,316.81 L839.5,317.15 L840,317.5 L840.5,317.86 L841,318.22 L841.5,318.59 L842,318.96 L842.5,319.34 L843,319.72 L843.5,320.1 L844,320.48 L844.5,320.86 L845,321.24 L845.5,321.62 L846,322 L846.5,322.42 L847,322.89 L847.5,323.39 L848,323.88 L848.5,324.31 L849,324.67 L849.5,324.91 L850,325 L850.5,324.94 L851,324.78 L851.5,324.52 L852,324.17 L852.5,323.73 L853,323.22 L853.5,322.64 L854,322 L854.5,320.54 L855,318.2 L855.5,316.01 L856,315 L856.5,314.94 L857,314.88 L857.5,314.84 L858,314.81 L858.5,314.78 L859,314.75 L859.5,314.74 L860,314.72 L860.5,314.71 L861,314.7 L861.5,314.69 L862,314.67 L862.5,314.66 L863,314.64 L863.5,314.61 L864,314.58 L864.5,314.55 L865,314.5 L865.5,314.42 L866,314.3 L866.5,314.13 L867,313.91 L867.5,313.66 L868,313.37 L868.5,313.05 L869,312.7 L869.5,312.32 L870,311.92 L870.5,311.51 L871,311.08 L871.5,310.63 L872,310.18 L872.5,309.73 L873,309.27 L873.5,308.82 L874,308.37 L874.5,307.93 L875,307.5 L875.5,307.07 L876,306.61 L876.5,306.13 L877,305.63 L877.5,305.12 L878,304.6 L878.5,304.08 L879,303.55 L879.5,303.02 L880,302.5 L880.5,301.94 L881,301.3 L881.5,300.61 L882,299.89 L882.5,299.17 L883,298.47 L883.5,297.81 L884,297.22 L884.5,296.72 L885,296.34 L885.5,296.09 L886,296 L886.5,296.01 L887,296.06 L887.5,296.14 L888,296.26 L888.5,296.43 L889,296.65 L889.5,296.93 L890,297.26 L890.5,297.66 L891,298.13 L891.5,298.67 L892,299.29 L892.5,300" fill="none" stroke="#84504f" stroke-width="1" stroke-dasharray="3,2" clip-path="url(#above)"/>
<path d="M34.5,265 L35,263.65 L35.5,262.34 L36,261.07 L36.5,259.84 L37,258.66 L37.5,257.51 L38,256.4 L38.5,255.34 L39,254.31 L39.5,253.33 L40,252.4 L40.5,251.5 L41,250.65 L41.5,249.85 L42,249.09 L42.5,248.38 L43,247.71 L43.5,247.08 L44,246.51 L44.5,245.98 L45,245.5 L45.5,245.04 L46,244.57 L46.5,244.13 L47,243.73 L47.5,243.39 L48,243.15 L48.5,243.02 L49,243 L49.5,243.04 L50,243.09 L50.5,243.18 L51,243.29 L51.5,243.41 L52,243.56 L52.5,243.71 L53,243.88 L53.5,244.06 L54,244.24 L54.5,244.42 L55,244.6 L55.5,244.78 L56,244.95 L56.5,245.12 L57,245.27 L57.5,245.4 L58,245.52 L58.5,245.62 L59,245.69 L59.5,245.73 L60,245.75 L60.5,245.75 L61,245.74 L61.5,245.73 L62,245.72 L62.5,245.71 L63,245.69 L63.5,245.66 L64,245.64 L64.5,245.61 L65,245.58 L65.5,245.54 L66,245.5 L66.5,245.31 L67,244.88 L67.5,244.25 L68,243.5 L68.5,242.7 L69,241.9 L69.5,241.16 L70,240.56 L70.5,240.15 L71,240 L71.5,240.03 L72,240.12 L72.5,240.25 L73,240.43 L73.5,240.65 L74,240.9 L74.5,241.17 L75,241.47 L75.5,241.77 L76,242.08 L76.5,242.4 L77,242.7 L77.5,243 L78,243.3 L78.5,243.63 L79,243.99 L79.5,244.36 L80,244.76 L80.5,245.17 L81,245.6 L81.5,246.03 L82,246.48 L82.5,246.92 L83,247.37 L83.5,247.82 L84,248.26 L84.5,248.7 L85,249.13 L85.5,249.54 L86,249.94 L86.5,250.31 L87,250.67 L87.5,251 L88,251.33 L88.5,251.68 L89,252.04 L89.5,252.4 L90,252.76 L90.5,253.1 L91,253.42 L91.5,253.72 L92,253.98 L92.5,254.2 L93,254.36 L93.5,254.46 L94,254.5 L94.5,254.45 L95,254.31 L95.5,254.09 L96,253.8 L96.5,253.47 L97,253.1 L97.5,252.72 L98,252.33 L98.5,251.95 L99,251.59 L99.5,251.27 L100,251 L100.5,250.78 L101,250.57 L101.5,250.39 L102,250.22 L102.5,250.06 L103,249.91 L103.5,249.76 L104,249.61 L104.5,249.47 L105,249.31 L105.5,249.15 L106,248.98 L106.5,248.79 L107,248.58 L107.5,248.35 L108,248.1 L108.5,247.82 L109,247.5 L109.5,247.02 L110,246.26 L110.5,245.29 L111,244.14 L111.5,242.88 L112,241.53 L112.5,240.17 L113,238.82 L113.5,237.55 L114,236.4 L114.5,235.43 L115,234.67 L115.5,234.17 L116,234 L116.5,234.1 L117,234.38 L117.5,234.81 L118,235.35 L118.5,235.98 L119,236.65 L119.5,237.35 L120,238.02 L120.5,238.65 L121,239.19 L121.5,239.62 L122,239.9 L122.5,240 L123,240 L123.5,240 L124,240 L124.5,240 L125,240 L125.5,240 L126,240 L126.5,240 L127,240 L127.5,240 L128,239.91 L128.5,239.65 L129,239.24 L129.5,238.71 L130,238.07 L130.5,237.35 L131,236.56 L131.5,235.72 L132,234.86 L132.5,234 L133,232.94 L133.5,231.53 L134,229.86 L134.5,228.03 L135,226.14 L135.5,224.28 L136,222.54 L136.5,221.01 L137,219.8 L137.5,219 L138,218.44 L138.5,217.9 L139,217.39 L139.5,216.9 L140,216.44 L140.5,216.01 L141,215.62 L141.5,215.26 L142,214.94 L142.5,214.66 L143,214.43 L143.5,214.25 L144,214.11 L144.5,214.03 L145,214 L145.5,214.05 L146,214.21 L146.5,214.45 L147,214.77 L147.5,215.15 L148,215.59 L148.5,216.07 L149,216.58 L149.5,217.1 L150,217.64 L150.5,218.17 L151,218.68 L151.5,219.16 L152,219.61 L152.5,220 L153,220.35 L153.5,220.66 L154,220.96 L154.5,221.23 L155,221.5 L155.5,221.76 L156,222.02 L156.5,222.29 L157,222.58 L157.5,222.89 L158,223.23 L158.5,223.6 L159,224.02 L159.5,224.48 L160,225 L160.5,225.67 L161,226.56 L161.5,227.65 L162,228.88 L162.5,230.23 L163,231.66 L163.5,233.14 L164,234.63 L164.5,236.09 L165,237.5 L165.5,238.93 L166,240.49 L166.5,242.11 L167,243.78 L167.5,245.45 L168,247.09 L168.5,248.65 L169,250.1 L169.5,251.39 L170,252.5 L170.5,253.52 L171,254.56 L171.5,255.59 L172,256.58 L172.5,257.5 L173,258.32 L173.5,259.01 L174,259.54 L174.5,259.88 L175,260 L175.5,259.88 L176,259.55 L176.5,259.03 L177,258.38 L177.5,257.61 L178,256.77 L178.5,255.89 L179,255 L179.5,253.8 L180,252.12 L180.5,250.2 L181,248.29 L181.5,246.62 L182,245.45 L182.5,245 L183,245.3 L183.5,246.11 L184,247.32 L184.5,248.82 L185,250.5 L185.5,252.23 L186,253.91 L186.5,255.43 L187,256.66 L187.5,257.5 L188,258.07 L188.5,258.6 L189,259.07 L189.5,259.51 L190,259.91 L190.5,260.28 L191,260.62 L191.5,260.95 L192,261.26 L192.5,261.57 L193,261.87 L193.5,262.18 L194,262.5 L194.5,262.83 L195,263.18 L195.5,263.54 L196,263.9 L196.5,264.27 L197,264.64 L197.5,265.01 L198,265.37 L198.5,265.72 L199,266.06 L199.5,266.38 L200,266.69 L200.5,266.97 L201,267.22 L201.5,267.44 L202,267.64 L202.5,267.79 L203,267.9 L203.5,267.98 L204,268 L204.5,267.91 L205,267.67 L205.5,267.29 L206,266.81 L206.5,266.25 L207,265.64 L207.5,265 L208,264.36 L208.5,263.75 L209,263.19 L209.5,262.71 L210,262.33 L210.5,262.09 L211,262 L211.5,262.02 L212,262.07 L212.5,262.15 L213,262.25 L213.5,262.38 L214,262.52 L214.5,262.67 L215,262.83 L215.5,263 L216,263.17 L216.5,263.33 L217,263.48 L217.5,263.62 L218,263.75 L218.5,263.85 L219,263.93 L219.5,263.98 L220,264 L220.5,263.88 L221,263.53 L221.5,262.98 L222,262.26 L222.5,261.39 L223,260.41 L223.5,259.33 L224,258.2 L224.5,257.02 L225,255.84 L225.5,254.67 L226,253.55 L226.5,252.5 L227,251.41 L227.5,250.17 L228,248.81 L228.5,247.35 L229,245.83 L229.5,244.26 L230,242.69 L230.5,241.13 L231,239.62 L231.5,238.18 L232,236.84 L232.5,235.63 L233,234.58 L233.5,233.71 L234,233.06 L234.5,232.64 L235,232.5 L235.5,232.66 L236,233.13 L236.5,233.86 L237,234.82 L237.5,235.97 L238,237.28 L238.5,238.71 L239,240.22 L239.5,241.77 L240,243.33 L240.5,244.87 L241,246.34 L241.5,247.71 L242,248.94 L242.5,250 L243,250.95 L243.5,251.89 L244,252.82 L244.5,253.74 L245,254.64 L245.5,255.53 L246,256.4 L246.5,257.26 L247,258.1 L247.5,258.92 L248,259.73 L248.5,260.51 L249,261.28 L249.5,262.02 L250,262.74 L250.5,263.44 L251,264.12 L251.5,264.77 L252,265.4 L252.5,266 L253,266.6 L253.5,267.2 L254,267.82 L254.5,268.43 L255,269.04 L255.5,269.64 L256,270.22 L256.5,270.78 L257,271.32 L257.5,271.82 L258,272.29 L258.5,272.71 L259,273.09 L259.5,273.41 L260,273.67 L260.5,273.87 L261,274 L261.5,274.09 L262,274.16 L262.5,274.22 L263,274.28 L263.5,274.33 L264,274.37 L264.5,274.4 L265,274.43 L265.5,274.46 L266,274.49 L266.5,274.52 L267,274.55 L267.5,274.58 L268,274.62 L268.5,274.66 L269,274.71 L269.5,274.77 L270,274.83 L270.5,274.91 L271,275 L271.5,275.18 L272,275.52 L272.5,276 L273,276.62 L273.5,277.36 L274,278.21 L274.5,279.16 L275,280.19 L275.5,281.3 L276,282.46 L276.5,283.68 L277,284.93 L277.5,286.2 L278,287.48 L278.5,288.77 L279,290.04 L279.5,291.29 L280,292.5 L280.5,293.7 L281,294.93 L281.5,296.2 L282,297.5 L282.5,298.84 L283,300.22 L283.5,301.65 L284,303.12 L284.5,304.65 L285,306.22 L285.5,307.85 L286,309.55 L286.5,311.3 L287,313.12 L287.5,315 L288,317.13 L288.5,319.53 L289,322 L289.5,324.47 L290,327.01 L290.5,329.6 L291,332.22 L291.5,334.83 L292,337.44 L292.5,340 L293,342.68 L293.5,345.58 L294,348.6 L294.5,351.65 L295,354.63 L295.5,357.44 L296,359.97 L296.5,362.15 L297,363.85 L297.5,365 L298,365.81 L298.5,366.59 L299,367.31 L299.5,367.96 L300,368.54 L300.5,369.04 L301,369.44 L301.5,369.75 L302,369.94 L302.5,370 L303,370 L303.5,370 L304,370 L304.5,370 L305,370 L305.5,370 L306,370 L306.5,370 L307,370 L307.5,370 L308,370 L308.5,370 L309,370 L309.5,370 L310,370 L310.5,370 L311,370 L311.5,370 L312,370 L312.5,370 L313,370 L313.5,370 L314,370 L314.5,370 L315,370 L315.5,370 L316,370 L316.5,370 L317,370 L317.5,370 L318,370 L318.5,370 L319,370 L319.5,370 L320,370 L320.5,369.85 L321,369.43 L321.5,368.8 L322,367.99 L322.5,367.07 L323,366.09 L323.5,365.09 L324,364.12 L324.5,363.24 L325,362.5 L325.5,361.81 L326,361.07 L326.5,360.29 L327,359.51 L327.5,358.75 L328,358.01 L328.5,357.33 L329,356.73 L329.5,356.22 L330,355.84 L330.5,355.59 L331,355.5 L331.5,355.53 L332,355.63 L332.5,355.79 L333,356.01 L333.5,356.28 L334,356.6 L334.5,356.97 L335,357.39 L335.5,357.84 L336,358.33 L336.5,358.86 L337,359.42 L337.5,360 L338,360.9 L338.5,362.31 L339,364.12 L339.5,366.2 L340,368.43 L340.5,370.69 L341,372.85 L341.5,374.79 L342,376.38 L342.5,377.5 L343,378.34 L343.5,379.16 L344,379.96 L344.5,380.73 L345,381.46 L345.5,382.15 L346,382.79 L346.5,383.38 L347,383.9 L347.5,384.37 L348,384.76 L348.5,385.07 L349,385.31 L349.5,385.45 L350,385.5 L350.5,385.43 L351,385.22 L351.5,384.89 L352,384.45 L352.5,383.9 L353,383.27 L353.5,382.55 L354,381.75 L354.5,380.9 L355,380 L355.5,378.54 L356,376.19 L356.5,373.25 L357,370.01 L357.5,366.78 L358,363.83 L358.5,361.48 L359,360 L359.5,359.08 L360,358.28 L360.5,357.71 L361,357.5 L361.5,357.63 L362,357.98 L362.5,358.51 L363,359.19 L363.5,359.97 L364,360.82 L364.5,361.68 L365,362.53 L365.5,363.31 L366,363.99 L366.5,364.52 L367,364.87 L367.5,365 L368,364.94 L368.5,364.76 L369,364.48 L369.5,364.12 L370,363.7 L370.5,363.24 L371,362.75 L371.5,362.25 L372,361.76 L372.5,361.3 L373,360.88 L373.5,360.52 L374,360.24 L374.5,360.06 L375,360 L375.5,360.09 L376,360.34 L376.5,360.74 L377,361.26 L377.5,361.89 L378,362.59 L378.5,363.36 L379,364.17 L379.5,365 L380,365.83 L380.5,366.64 L381,367.41 L381.5,368.11 L382,368.74 L382.5,369.26 L383,369.66 L383.5,369.91 L384,370 L384.5,369.84 L385,369.39 L385.5,368.7 L386,367.82 L386.5,366.79 L387,365.67 L387.5,364.5 L388,363.33 L388.5,362.21 L389,361.18 L389.5,360.3 L390,359.61 L390.5,359.16 L391,359 L391.5,359.12 L392,359.45 L392.5,359.97 L393,360.64 L393.5,361.44 L394,362.32 L394.5,363.27 L395,364.25 L395.5,365.23 L396,366.18 L396.5,367.06 L397,367.86 L397.5,368.53 L398,369.05 L398.5,369.38 L399,369.5 L399.5,369.45 L400,369.3 L400.5,369.06 L401,368.71 L401.5,368.27 L402,367.73 L402.5,367.1 L403,366.37 L403.5,365.54 L404,364.62 L404.5,363.61 L405,362.5 L405.5,360.25 L406,356.25 L406.5,351.11 L407,345.49 L407.5,340 L408,333.49 L408.5,326.45 L409,322 L409.5,320.05 L410,318.4 L410.5,317.04 L411,315.95 L411.5,315.09 L412,314.45 L412.5,314 L413,313.66 L413.5,313.34 L414,313.05 L414.5,312.78 L415,312.56 L415.5,312.36 L416,312.21 L416.5,312.09 L417,312.02 L417.5,312 L418,312.04 L418.5,312.15 L419,312.33 L419.5,312.57 L420,312.86 L420.5,313.19 L421,313.55 L421.5,313.94 L422,314.34 L422.5,314.75 L423,315.16 L423.5,315.56 L424,315.95 L424.5,316.31 L425,316.64 L425.5,316.93 L426,317.17 L426.5,317.35 L427,317.46 L427.5,317.5 L428,317.48 L428.5,317.42 L429,317.32 L429.5,317.19 L430,317.03 L430.5,316.83 L431,316.61 L431.5,316.37 L432,316.11 L432.5,315.82 L433,315.52 L433.5,315.21 L434,314.88 L434.5,314.55 L435,314.21 L435.5,313.86 L436,313.52 L436.5,313.17 L437,312.83 L437.5,312.5 L438,312.17 L438.5,311.83 L439,311.48 L439.5,311.12 L440,310.75 L440.5,310.37 L441,309.97 L441.5,309.55 L442,309.11 L442.5,308.65 L443,308.17 L443.5,307.66 L444,307.13 L444.5,306.57 L445,305.97 L445.5,305.35 L446,304.69 L446.5,304 L447,303.17 L447.5,302.13 L448,300.9 L448.5,299.51 L449,298 L449.5,296.38 L450,294.69 L450.5,292.95 L451,291.2 L451.5,289.46 L452,287.76 L452.5,286.13 L453,284.6 L453.5,283.19 L454,281.94 L454.5,280.86 L455,280 L455.5,279.29 L456,278.64 L456.5,278.06 L457,277.53 L457.5,277.04 L458,276.59 L458.5,276.17 L459,275.78 L459.5,275.39 L460,275.02 L460.5,274.64 L461,274.26 L461.5,273.86 L462,273.44 L462.5,272.99 L463,272.5 L463.5,271.96 L464,271.37 L464.5,270.72 L465,270 L465.5,269.05 L466,267.76 L466.5,266.22 L467,264.51 L467.5,262.7 L468,260.87 L468.5,259.1 L469,257.48 L469.5,256.07 L470,254.98 L470.5,254.26 L471,254 L471.5,254.16 L472,254.62 L472.5,255.33 L473,256.23 L473.5,257.27 L474,258.42 L474.5,259.61 L475,260.8 L475.5,261.94 L476,262.98 L476.5,263.87 L477,264.56 L477.5,265 L478,265.3 L478.5,265.58 L479,265.86 L479.5,266.12 L480,266.38 L480.5,266.61 L481,266.84 L481.5,267.04 L482,267.23 L482.5,267.4 L483,267.55 L483.5,267.69 L484,267.8 L484.5,267.88 L485,267.95 L485.5,267.99 L486,268 L486.5,267.74 L487,267 L487.5,265.88 L488,264.44 L488.5,262.78 L489,260.97 L489.5,259.09 L490,257.23 L490.5,255.46 L491,253.88 L491.5,252.55 L492,251.56 L492.5,251 L493,250.69 L493.5,250.42 L494,250.18 L494.5,249.96 L495,249.77 L495.5,249.61 L496,249.45 L496.5,249.32 L497,249.19 L497.5,249.07 L498,248.95 L498.5,248.84 L499,248.72 L499.5,248.59 L500,248.46 L500.5,248.31 L501,248.14 L501.5,247.95 L502,247.74 L502.5,247.5 L503,247.23 L503.5,246.94 L504,246.62 L504.5,246.27 L505,245.9 L505.5,245.51 L506,245.1 L506.5,244.67 L507,244.21 L507.5,243.74 L508,243.25 L508.5,242.74 L509,242.22 L509.5,241.68 L510,241.13 L510.5,240.56 L511,239.98 L511.5,239.39 L512,238.79 L512.5,238.18 L513,237.55 L513.5,236.93 L514,236.29 L514.5,235.65 L515,235 L515.5,234.28 L516,233.42 L516.5,232.46 L517,231.41 L517.5,230.29 L518,229.12 L518.5,227.92 L519,226.72 L519.5,225.54 L520,224.39 L520.5,223.3 L521,222.28 L521.5,221.37 L522,220.57 L522.5,219.91 L523,219.42 L523.5,219.11 L524,219 L524.5,219.06 L525,219.23 L525.5,219.49 L526,219.83 L526.5,220.25 L527,220.72 L527.5,221.24 L528,221.78 L528.5,222.34 L529,222.91 L529.5,223.47 L530,224 L530.5,224.58 L531,225.27 L531.5,226.04 L532,226.9 L532.5,227.81 L533,228.75 L533.5,229.73 L534,230.7 L534.5,231.67 L535,232.6 L535.5,233.49 L536,234.32 L536.5,235.07 L537,235.72 L537.5,236.25 L538,236.66 L538.5,236.91 L539,237 L539.5,236.89 L540,236.58 L540.5,236.08 L541,235.43 L541.5,234.65 L542,233.77 L542.5,232.8 L543,231.78 L543.5,230.72 L544,229.65 L544.5,228.6 L545,227.59 L545.5,226.65 L546,225.79 L546.5,225.05 L547,224.44 L547.5,224 L548,223.65 L548.5,223.32 L549,222.99 L549.5,222.68 L550,222.39 L550.5,222.11 L551,221.85 L551.5,221.6 L552,221.38 L552.5,221.18 L553,220.99 L553.5,220.83 L554,220.7 L554.5,220.59 L555,220.5 L555.5,220.43 L556,220.37 L556.5,220.31 L557,220.26 L557.5,220.22 L558,220.17 L558.5,220.14 L559,220.1 L559.5,220.07 L560,220.04 L560.5,220.02 L561,219.99 L561.5,219.96 L562,219.94 L562.5,219.91 L563,219.89 L563.5,219.86 L564,219.83 L564.5,219.79 L565,219.75 L565.5,219.71 L566,219.67 L566.5,219.62 L567,219.56 L567.5,219.5 L568,219.42 L568.5,219.31 L569,219.17 L569.5,219.01 L570,218.83 L570.5,218.63 L571,218.42 L571.5,218.18 L572,217.94 L572.5,217.69 L573,217.43 L573.5,217.17 L574,216.91 L574.5,216.65 L575,216.39 L575.5,216.14 L576,215.9 L576.5,215.67 L577,215.45 L577.5,215.25 L578,215.06 L578.5,214.9 L579,214.76 L579.5,214.65 L580,214.57 L580.5,214.52 L581,214.5 L581.5,214.57 L582,214.77 L582.5,215.08 L583,215.49 L583.5,216 L584,216.58 L584.5,217.23 L585,217.93 L585.5,218.67 L586,219.44 L586.5,220.22 L587,221 L587.5,221.77 L588,222.51 L588.5,223.22 L589,223.88 L589.5,224.48 L590,225 L590.5,225.46 L591,225.89 L591.5,226.29 L592,226.66 L592.5,227.02 L593,227.35 L593.5,227.67 L594,227.97 L594.5,228.27 L595,228.57 L595.5,228.86 L596,229.16 L596.5,229.47 L597,229.78 L597.5,230.12 L598,230.46 L598.5,230.83 L599,231.23 L599.5,231.65 L600,232.11 L600.5,232.6 L601,233.13 L601.5,233.71 L602,234.33 L602.5,235 L603,235.82 L603.5,236.88 L604,238.15 L604.5,239.62 L605,241.26 L605.5,243.06 L606,245 L606.5,247.44 L607,250.62 L607.5,254.3 L608,258.28 L608.5,262.3 L609,266.17 L609.5,269.64 L610,272.5 L610.5,274.89 L611,277.14 L611.5,279.25 L612,281.24 L612.5,283.14 L613,284.95 L613.5,286.69 L614,288.39 L614.5,290.05 L615,291.69 L615.5,293.34 L616,295 L616.5,296.65 L617,298.27 L617.5,299.85 L618,301.39 L618.5,302.91 L619,304.41 L619.5,305.89 L620,307.35 L620.5,308.8 L621,310.25 L621.5,311.69 L622,313.13 L622.5,314.58 L623,316.04 L623.5,317.51 L624,319 L624.5,320.66 L625,322.43 L625.5,323.99 L626,325 L626.5,325.61 L627,326.19 L627.5,326.73 L628,327.23 L628.5,327.68 L629,328.09 L629.5,328.45 L630,328.76 L630.5,329.02 L631,329.23 L631.5,329.38 L632,329.47 L632.5,329.5 L633,329.5 L633.5,329.49 L634,329.49 L634.5,329.48 L635,329.46 L635.5,329.44 L636,329.42 L636.5,329.4 L637,329.37 L637.5,329.34 L638,329.3 L638.5,329.26 L639,329.22 L639.5,329.17 L640,329.12 L640.5,329.06 L641,329 L641.5,328.78 L642,328.28 L642.5,327.54 L643,326.62 L643.5,325.55 L644,324.4 L644.5,323.2 L645,322 L645.5,320.47 L646,318.41 L646.5,316.03 L647,313.57 L647.5,311.26 L648,309.32 L648.5,307.99 L649,307.5 L649.5,307.51 L650,307.56 L650.5,307.63 L651,307.72 L651.5,307.84 L652,307.99 L652.5,308.16 L653,308.36 L653.5,308.58 L654,308.82 L654.5,309.08 L655,309.37 L655.5,309.67 L656,310 L656.5,310.52 L657,311.36 L657.5,312.46 L658,313.78 L658.5,315.25 L659,316.81 L659.5,318.42 L660,320 L660.5,321.78 L661,323.9 L661.5,326.17 L662,328.4 L662.5,330.4 L663,332 L663.5,333.32 L664,334.6 L664.5,335.83 L665,337.02 L665.5,338.15 L666,339.23 L666.5,340.23 L667,341.17 L667.5,342.03 L668,342.81 L668.5,343.5 L669,344.1 L669.5,344.6 L670,345 L670.5,345.34 L671,345.67 L671.5,345.98 L672,346.29 L672.5,346.59 L673,346.87 L673.5,347.14 L674,347.39 L674.5,347.63 L675,347.86 L675.5,348.06 L676,348.25 L676.5,348.42 L677,348.57 L677.5,348.7 L678,348.8 L678.5,348.89 L679,348.95 L679.5,348.99 L680,349 L680.5,348.99 L681,348.97 L681.5,348.94 L682,348.89 L682.5,348.83 L683,348.76 L683.5,348.68 L684,348.58 L684.5,348.46 L685,348.34 L685.5,348.2 L686,348.04 L686.5,347.88 L687,347.69 L687.5,347.5 L688,346.97 L688.5,345.86 L689,344.28 L689.5,342.36 L690,340.21 L690.5,337.93 L691,335.66 L691.5,333.5 L692,331.58 L692.5,330 L693,328.67 L693.5,327.41 L694,326.21 L694.5,325.08 L695,324 L695.5,322.97 L696,322 L696.5,321.04 L697,320.08 L697.5,319.13 L698,318.21 L698.5,317.33 L699,316.5 L699.5,315.73 L700,315.05 L700.5,314.47 L701,314 L701.5,313.59 L702,313.19 L702.5,312.8 L703,312.42 L703.5,312.07 L704,311.74 L704.5,311.43 L705,311.17 L705.5,310.94 L706,310.75 L706.5,310.62 L707,310.53 L707.5,310.5 L708,310.58 L708.5,310.82 L709,311.19 L709.5,311.68 L710,312.27 L710.5,312.93 L711,313.66 L711.5,314.42 L712,315.21 L712.5,316 L713,316.87 L713.5,317.92 L714,319.12 L714.5,320.48 L715,322 L715.5,323.92 L716,326.39 L716.5,329.22 L717,332.23 L717.5,335.24 L718,338.08 L718.5,340.56 L719,342.5 L719.5,344.07 L720,345.55 L720.5,346.95 L721,348.26 L721.5,349.47 L722,350.59 L722.5,351.6 L723,352.51 L723.5,353.31 L724,354 L724.5,354.61 L725,355.17 L725.5,355.69 L726,356.17 L726.5,356.62 L727,357.04 L727.5,357.44 L728,357.82 L728.5,358.18 L729,358.53 L729.5,358.87 L730,359.21 L730.5,359.55 L731,359.89 L731.5,360.25 L732,360.61 L732.5,361 L733,361.42 L733.5,361.89 L734,362.38 L734.5,362.89 L735,363.4 L735.5,363.9 L736,364.38 L736.5,364.82 L737,365.21 L737.5,365.54 L738,365.78 L738.5,365.94 L739,366 L739.5,365.43 L740,363.93 L740.5,361.78 L741,359.27 L741.5,356.7 L742,354.34 L742.5,352.5 L743,350.93 L743.5,349.29 L744,347.69 L744.5,346.25 L745,345.08 L745.5,344.29 L746,344 L746.5,344.01 L747,344.02 L747.5,344.05 L748,344.08 L748.5,344.12 L749,344.17 L749.5,344.22 L750,344.28 L750.5,344.34 L751,344.4 L751.5,344.47 L752,344.53 L752.5,344.6 L753,344.66 L753.5,344.72 L754,344.78 L754.5,344.83 L755,344.88 L755.5,344.92 L756,344.95 L756.5,344.98 L757,344.99 L757.5,345 L758,344.87 L758.5,344.52 L759,343.97 L759.5,343.26 L760,342.42 L760.5,341.48 L761,340.48 L761.5,339.44 L762,338.42 L762.5,337.42 L763,336.5 L763.5,335.68 L764,335 L764.5,334.37 L765,333.72 L765.5,333.04 L766,332.37 L766.5,331.71 L767,331.09 L767.5,330.52 L768,330.02 L768.5,329.6 L769,329.28 L769.5,329.07 L770,329 L770.5,329.06 L771,329.22 L771.5,329.47 L772,329.8 L772.5,330.21 L773,330.67 L773.5,331.17 L774,331.72 L774.5,332.28 L775,332.86 L775.5,333.43 L776,334 L776.5,334.61 L777,335.3 L777.5,336.08 L778,336.91 L778.5,337.8 L779,338.72 L779.5,339.66 L780,340.61 L780.5,341.56 L781,342.48 L781.5,343.37 L782,344.22 L782.5,345 L783,345.76 L783.5,346.54 L784,347.33 L784.5,348.13 L785,348.92 L785.5,349.71 L786,350.47 L786.5,351.21 L787,351.92 L787.5,352.58 L788,353.19 L788.5,353.75 L789,354.24 L789.5,354.66 L790,355 L790.5,355.3 L791,355.59 L791.5,355.87 L792,356.13 L792.5,356.37 L793,356.58 L793.5,356.76 L794,356.89 L794.5,356.97 L795,357 L795.5,356.94 L796,356.76 L796.5,356.48 L797,356.1 L797.5,355.64 L798,355.11 L798.5,354.52 L799,353.88 L799.5,353.21 L800,352.5 L800.5,351.62 L801,350.45 L801.5,349.01 L802,347.36 L802.5,345.53 L803,343.55 L803.5,341.47 L804,339.33 L804.5,337.16 L805,335 L805.5,332.51 L806,329.59 L806.5,326.61 L807,323.95 L807.5,322 L808,320.59 L808.5,319.3 L809,318.11 L809.5,317.03 L810,316.05 L810.5,315.17 L811,314.38 L811.5,313.67 L812,313.05 L812.5,312.5 L813,312 L813.5,311.51 L814,311.04 L814.5,310.58 L815,310.15 L815.5,309.74 L816,309.36 L816.5,309.01 L817,308.68 L817.5,308.39 L818,308.13 L818.5,307.91 L819,307.73 L819.5,307.59 L820,307.5 L820.5,307.43 L821,307.36 L821.5,307.3 L822,307.24 L822.5,307.19 L823,307.14 L823.5,307.1 L824,307.07 L824.5,307.04 L825,307.02 L825.5,307 L826,307 L826.5,307.07 L827,307.25 L827.5,307.54 L828,307.92 L828.5,308.37 L829,308.88 L829.5,309.42 L830,309.98 L830.5,310.54 L831,311.09 L831.5,311.61 L832,312.09 L832.5,312.5 L833,312.87 L833.5,313.22 L834,313.57 L834.5,313.9 L835,314.23 L835.5,314.56 L836,314.88 L836.5,315.2 L837,315.51 L837.5,315.83 L838,316.15 L838.5,316.48 L839,316.81 L839.5,317.15 L840,317.5 L840.5,317.86 L841,318.22 L841.5,318.59 L842,318.96 L842.5,319.34 L843,319.72 L843.5,320.1 L844,320.48 L844.5,320.86 L845,321.24 L845.5,321.62 L846,322 L846.5,322.42 L847,322.89 L847.5,323.39 L848,323.88 L848.5,324.31 L849,324.67 L849.5,324.91 L850,325 L850.5,324.94 L851,324.78 L851.5,324.52 L852,324.17 L852.5,323.73 L853,323.22 L853.5,322.64 L854,322 L854.5,320.54 L855,318.2 L855.5,316.01 L856,315 L856.5,314.94 L857,314.88 L857.5,314.84 L858,314.81 L858.5,314.78 L859,314.75 L859.5,314.74 L860,314.72 L860.5,314.71 L861,314.7 L861.5,314.69 L862,314.67 L862.5,314.66 L863,314.64 L863.5,314.61 L864,314.58 L864.5,314.55 L865,314.5 L865.5,314.42 L866,314.3 L866.5,314.13 L867,313.91 L867.5,313.66 L868,313.37 L868.5,313.05 L869,312.7 L869.5,312.32 L870,311.92 L870.5,311.51 L871,311.08 L871.5,310.63 L872,310.18 L872.5,309.73 L873,309.27 L873.5,308.82 L874,308.37 L874.5,307.93 L875,307.5 L875.5,307.07 L876,306.61 L876.5,306.13 L877,305.63 L877.5,305.12 L878,304.6 L878.5,304.08 L879,303.55 L879.5,303.02 L880,302.5 L880.5,301.94 L881,301.3 L881.5,300.61 L882,299.89 L882.5,299.17 L883,298.47 L883.5,297.81 L884,297.22 L884.5,296.72 L885,296.34 L885.5,296.09 L886,296 L886.5,296.01 L887,296.06 L887.5,296.14 L888,296.26 L888.5,296.43 L889,296.65 L889.5,296.93 L890,297.26 L890.5,297.66 L891,298.13 L891.5,298.67 L892,299.29 L892.5,300" fill="none" stroke="#a9c3db" stroke-width="1" stroke-dasharray="3,2" clip-path="url(#below)"/>
<path d="M34,220 L34.5,214.83 L35,209.75 L35.5,204.79 L36,200 L36.5,195.3 L37,190.61 L37.5,185.98 L38,181.44 L38.5,177.04 L39,172.81 L39.5,168.78 L40,165 L40.5,161.41 L41,157.94 L41.5,154.6 L42,151.39 L42.5,148.31 L43,145.39 L43.5,142.61 L44,140 L44.5,137.49 L45,135.05 L45.5,132.71 L46,130.5 L46.5,128.46 L47,126.62 L47.5,125 L48,123.51 L48.5,122.06 L49,120.7 L49.5,119.46 L50,118.4 L50.5,117.57 L51,117 L51.5,116.6 L52,116.22 L52.5,115.88 L53,115.58 L53.5,115.34 L54,115.16 L54.5,115.04 L55,115 L55.5,115.07 L56,115.27 L56.5,115.58 L57,116 L57.5,116.5 L58,117.69 L58.5,119.96 L59,122.98 L59.5,126.44 L60,130 L60.5,134.16 L61,139.28 L61.5,144.82 L62,150.24 L62.5,155 L63,159.3 L63.5,163.59 L64,167.69 L64.5,171.41 L65,174.57 L65.5,177 L66,178.82 L66.5,180.33 L67,181.64 L67.5,182.83 L68,184 L68.5,185.14 L69,186.19 L69.5,187.18 L70,188.13 L70.5,189.06 L71,189.99 L71.5,190.94 L72,191.94 L72.5,193 L73,194.14 L73.5,195.33 L74,196.55 L74.5,197.78 L75,199 L75.5,200.23 L76,201.5 L76.5,202.8 L77,204.13 L77.5,205.46 L78,206.8 L78.5,208.13 L79,209.43 L79.5,210.7 L80,211.93 L80.5,213.1 L81,214.2 L81.5,215.23 L82,216.16 L82.5,217 L83,217.8 L83.5,218.63 L84,219.45 L84.5,220.24 L85,220.98 L85.5,221.64 L86,222.2 L86.5,222.63 L87,222.9 L87.5,223 L88,222.98 L88.5,222.91 L89,222.79 L89.5,222.63 L90,222.42 L90.5,222.17 L91,221.86 L91.5,221.51 L92,221.11 L92.5,220.66 L93,220.16 L93.5,219.6 L94,219 L94.5,217.72 L95,215.34 L95.5,212.21 L96,208.65 L96.5,205 L97,200.98 L97.5,196.25 L98,191.03 L98.5,185.54 L99,180 L99.5,174.06 L100,167.79 L100.5,162 L101,156.68 L101.5,151.38 L102,146.23 L102.5,141.38 L103,136.97 L103.5,133.13 L104,130 L104.5,127.35 L105,124.9 L105.5,122.79 L106,121.12 L106.5,120 L107,119.23 L107.5,118.54 L108,118 L108.5,117.63 L109,117.5 L109.5,117.53 L110,117.62 L110.5,117.76 L111,117.95 L111.5,118.17 L112,118.43 L112.5,118.71 L113,119 L113.5,119.37 L114,119.88 L114.5,120.51 L115,121.25 L115.5,122.08 L116,123 L116.5,124.07 L117,125.38 L117.5,126.92 L118,128.66 L118.5,130.6 L119,132.73 L119.5,135.03 L120,137.5 L120.5,140.72 L121,144.88 L121.5,149.38 L122,153.62 L122.5,157 L123,159.69 L123.5,162.26 L124,164.71 L124.5,167.01 L125,169.15 L125.5,171.12 L126,172.9 L126.5,174.49 L127,175.86 L127.5,177 L128,177.97 L128.5,178.83 L129,179.61 L129.5,180.3 L130,180.92 L130.5,181.48 L131,182 L131.5,182.46 L132,182.85 L132.5,183.2 L133,183.53 L133.5,183.85 L134,184.19 L134.5,184.57 L135,185 L135.5,185.47 L136,185.96 L136.5,186.47 L137,187.03 L137.5,187.65 L138,188.34 L138.5,189.12 L139,190 L139.5,191.21 L140,192.87 L140.5,194.83 L141,196.92 L141.5,199 L142,200.91 L142.5,202.5 L143,203.9 L143.5,205.17 L144,206 L144.5,206.49 L145,206.86 L145.5,207 L146,206.85 L146.5,206.49 L147,206 L147.5,205.43 L148,204.54 L148.5,203.44 L149,202.23 L149.5,201.05 L150,200 L150.5,199.05 L151,198.1 L151.5,197.14 L152,196.19 L152.5,195.24 L153,194.31 L153.5,193.39 L154,192.5 L154.5,191.65 L155,190.83 L155.5,190.05 L156,189.33 L156.5,188.66 L157,188.04 L157.5,187.5 L158,187 L158.5,186.53 L159,186.09 L159.5,185.66 L160,185.26 L160.5,184.87 L161,184.5 L161.5,184.15 L162,183.81 L162.5,183.49 L163,183.17 L163.5,182.87 L164,182.57 L164.5,182.28 L165,182 L165.5,181.71 L166,181.42 L166.5,181.12 L167,180.81 L167.5,180.5 L168,180.2 L168.5,179.9 L169,179.6 L169.5,179.32 L170,179.04 L170.5,178.79 L171,178.54 L171.5,178.32 L172,178.12 L172.5,177.94 L173,177.79 L173.5,177.67 L174,177.58 L174.5,177.52 L175,177.5 L175.5,177.75 L176,178.44 L176.5,179.45 L177,180.67 L177.5,182 L178,183.69 L178.5,185.98 L179,188.78 L179.5,192 L180,196.71 L180.5,202.49 L181,207 L181.5,209.93 L182,212.57 L182.5,214.94 L183,217.08 L183.5,219.03 L184,220.81 L184.5,222.47 L185,224.03 L185.5,225.53 L186,227 L186.5,228.46 L187,229.9 L187.5,231.3 L188,232.67 L188.5,234.01 L189,235.3 L189.5,236.55 L190,237.74 L190.5,238.88 L191,239.97 L191.5,240.99 L192,241.94 L192.5,242.82 L193,243.63 L193.5,244.36 L194,245 L194.5,245.6 L195,246.2 L195.5,246.79 L196,247.37 L196.5,247.94 L197,248.49 L197.5,249.03 L198,249.55 L198.5,250.04 L199,250.5 L199.5,250.94 L200,251.34 L200.5,251.7 L201,252.03 L201.5,252.31 L202,252.55 L202.5,252.74 L203,252.88 L203.5,252.97 L204,253 L204.5,252.91 L205,252.67 L205.5,252.28 L206,251.76 L206.5,251.13 L207,250.4 L207.5,249.6 L208,248.73 L208.5,247.83 L209,246.89 L209.5,245.94 L210,245 L210.5,243.99 L211,242.84 L211.5,241.57 L212,240.18 L212.5,238.68 L213,237.08 L213.5,235.41 L214,233.66 L214.5,231.85 L215,230 L215.5,228.07 L216,226.02 L216.5,223.85 L217,221.56 L217.5,219.15 L218,216.6 L218.5,213.91 L219,211.09 L219.5,208.12 L220,205 L220.5,201.45 L221,197.33 L221.5,192.88 L222,188.36 L222.5,183.98 L223,180 L223.5,176.09 L224,171.97 L224.5,167.98 L225,164.43 L225.5,161.67 L226,160 L226.5,159.04 L227,158.25 L227.5,157.7 L228,157.5 L228.5,157.5 L229,157.5 L229.5,157.5 L230,157.5 L230.5,157.5 L231,157.5 L231.5,157.5 L232,157.5 L232.5,157.5 L233,157.5 L233.5,157.5 L234,157.5 L234.5,157.5 L235,157.5 L235.5,157.5 L236,157.5 L236.5,158.2 L237,160 L237.5,162.42 L238,165 L238.5,168.07 L239,171.93 L239.5,176.08 L240,180 L240.5,183.56 L241,187.01 L241.5,190.37 L242,193.68 L242.5,197 L243,200.36 L243.5,203.8 L244,207.36 L244.5,211.08 L245,215 L245.5,219.71 L246,225.22 L246.5,230.67 L247,235.21 L247.5,238 L248,239.52 L248.5,240.84 L249,241.99 L249.5,242.98 L250,243.84 L250.5,244.6 L251,245.27 L251.5,245.88 L252,246.45 L252.5,247 L253,247.51 L253.5,247.96 L254,248.35 L254.5,248.71 L255,249.04 L255.5,249.38 L256,249.72 L256.5,250.1 L257,250.52 L257.5,251 L258,251.61 L258.5,252.38 L259,253.27 L259.5,254.25 L260,255.28 L260.5,256.33 L261,257.35 L261.5,258.31 L262,259.18 L262.5,259.92 L263,260.5 L263.5,260.87 L264,261 L264.5,260.83 L265,260.34 L265.5,259.58 L266,258.62 L266.5,257.5 L267,256.28 L267.5,255 L268,253.72 L268.5,252.5 L269,251.38 L269.5,250.42 L270,249.66 L270.5,249.17 L271,249 L271.5,249.12 L272,249.47 L272.5,250.02 L273,250.72 L273.5,251.55 L274,252.48 L274.5,253.47 L275,254.5 L275.5,255.53 L276,256.52 L276.5,257.45 L277,258.28 L277.5,258.98 L278,259.53 L278.5,259.88 L279,260 L279.5,259.83 L280,259.33 L280.5,258.56 L281,257.55 L281.5,256.35 L282,255 L282.5,253.54 L283,252.02 L283.5,250.48 L284,248.96 L284.5,247.5 L285,246.15 L285.5,244.95 L286,243.94 L286.5,243.17 L287,242.67 L287.5,242.5 L288,242.54 L288.5,242.67 L289,242.88 L289.5,243.16 L290,243.51 L290.5,243.93 L291,244.41 L291.5,244.95 L292,245.55 L292.5,246.19 L293,246.88 L293.5,247.61 L294,248.38 L294.5,249.17 L295,250 L295.5,251.12 L296,252.73 L296.5,254.68 L297,256.85 L297.5,259.1 L298,261.3 L298.5,263.31 L299,265 L299.5,266.46 L300,267.87 L300.5,269.23 L301,270.55 L301.5,271.83 L302,273.07 L302.5,274.27 L303,275.44 L303.5,276.59 L304,277.7 L304.5,278.79 L305,279.86 L305.5,280.91 L306,281.95 L306.5,282.97 L307,283.99 L307.5,285 L308,286 L308.5,287 L309,287.98 L309.5,288.96 L310,289.92 L310.5,290.87 L311,291.81 L311.5,292.73 L312,293.64 L312.5,294.54 L313,295.41 L313.5,296.28 L314,297.12 L314.5,297.95 L315,298.76 L315.5,299.55 L316,300.32 L316.5,301.07 L317,301.8 L317.5,302.5 L318,303.2 L318.5,303.9 L319,304.59 L319.5,305.25 L320,305.87 L320.5,306.42 L321,306.91 L321.5,307.3 L322,307.65 L322.5,307.99 L323,308.3 L323.5,308.58 L324,308.8 L324.5,308.95 L325,309 L325.5,308.96 L326,308.84 L326.5,308.67 L327,308.44 L327.5,308.18 L328,307.9 L328.5,307.6 L329,307.25 L329.5,306.81 L330,306.29 L330.5,305.68 L331,305 L331.5,304.2 L332,303.23 L332.5,302.12 L333,300.88 L333.5,299.53 L334,298.08 L334.5,296.57 L335,295 L335.5,293.27 L336,291.28 L336.5,289.1 L337,286.76 L337.5,284.33 L338,281.85 L338.5,279.38 L339,276.96 L339.5,274.65 L340,272.5 L340.5,270.41 L341,268.31 L341.5,266.25 L342,264.3 L342.5,262.53 L343,261 L343.5,259.6 L344,258.36 L344.5,257.6 L345,257.21 L345.5,256.89 L346,256.68 L346.5,256.6 L347,256.6 L347.5,256.6 L348,256.6 L348.5,256.6 L349,256.6 L349.5,256.6 L350,256.6 L350.5,256.6 L351,256.6 L351.5,256.6 L352,256.6 L352.5,256.65 L353,256.79 L353.5,257 L354,257.27 L354.5,257.6 L355,258.23 L355.5,259.3 L356,260.62 L356.5,262 L357,263.55 L357.5,265.4 L358,267.45 L358.5,269.55 L359,271.6 L359.5,273.45 L360,275 L360.5,276.29 L361,277.47 L361.5,278.57 L362,279.58 L362.5,280.54 L363,281.44 L363.5,282.32 L364,283.18 L364.5,284.04 L365,284.91 L365.5,285.81 L366,286.75 L366.5,287.76 L367,288.83 L367.5,290 L368,291.26 L368.5,292.61 L369,294.02 L369.5,295.5 L370,297.03 L370.5,298.59 L371,300.18 L371.5,301.79 L372,303.4 L372.5,305 L373,306.68 L373.5,308.51 L374,310.43 L374.5,312.38 L375,314.33 L375.5,316.2 L376,317.96 L376.5,319.55 L377,320.91 L377.5,322 L378,322.93 L378.5,323.86 L379,324.76 L379.5,325.61 L380,326.41 L380.5,327.13 L381,327.76 L381.5,328.28 L382,328.67 L382.5,328.91 L383,329 L383.5,328.91 L384,328.66 L384.5,328.24 L385,327.69 L385.5,327 L386,326.19 L386.5,325.27 L387,324.26 L387.5,323.17 L388,322 L388.5,320.3 L389,317.72 L389.5,314.39 L390,310.47 L390.5,306.13 L391,301.51 L391.5,296.76 L392,292.04 L392.5,287.5 L393,282.64 L393.5,277.2 L394,271.68 L394.5,266.61 L395,262.5 L395.5,259.15 L396,256.01 L396.5,253.07 L397,250.33 L397.5,247.78 L398,245.4 L398.5,243.19 L399,241.15 L399.5,239.25 L400,237.5 L400.5,235.84 L401,234.22 L401.5,232.67 L402,231.17 L402.5,229.75 L403,228.41 L403.5,227.16 L404,226 L404.5,224.95 L405,224.01 L405.5,223.19 L406,222.5 L406.5,221.88 L407,221.26 L407.5,220.66 L408,220.09 L408.5,219.56 L409,219.06 L409.5,218.62 L410,218.24 L410.5,217.93 L411,217.7 L411.5,217.55 L412,217.5 L412.5,217.94 L413,219.13 L413.5,220.88 L414,222.99 L414.5,225.26 L415,227.5 L415.5,230.11 L416,233.34 L416.5,236.76 L417,239.96 L417.5,242.5 L418,244.55 L418.5,246.53 L419,248.43 L419.5,250.22 L420,251.88 L420.5,253.39 L421,254.72 L421.5,255.87 L422,256.8 L422.5,257.5 L423,258.05 L423.5,258.56 L424,259.03 L424.5,259.46 L425,259.86 L425.5,260.23 L426,260.57 L426.5,260.89 L427,261.18 L427.5,261.46 L428,261.73 L428.5,261.98 L429,262.23 L429.5,262.47 L430,262.71 L430.5,262.95 L431,263.2 L431.5,263.45 L432,263.72 L432.5,264 L433,264.3 L433.5,264.62 L434,264.95 L434.5,265.3 L435,265.65 L435.5,266 L436,266.35 L436.5,266.69 L437,267.03 L437.5,267.35 L438,267.65 L438.5,267.94 L439,268.2 L439.5,268.43 L440,268.62 L440.5,268.78 L441,268.9 L441.5,268.97 L442,269 L442.5,268.93 L443,268.74 L443.5,268.43 L444,268 L444.5,267.47 L445,266.84 L445.5,266.12 L446,265.32 L446.5,264.44 L447,263.5 L447.5,262.5 L448,260.98 L448.5,258.64 L449,255.7 L449.5,252.39 L450,248.94 L450.5,245.56 L451,242.5 L451.5,239.75 L452,237.12 L452.5,234.54 L453,231.94 L453.5,229.26 L454,226.42 L454.5,223.35 L455,220 L455.5,215.87 L456,210.93 L456.5,205.81 L457,201.13 L457.5,197.5 L458,194.68 L458.5,192 L459,189.48 L459.5,187.13 L460,184.97 L460.5,183.02 L461,181.28 L461.5,179.77 L462,178.51 L462.5,177.5 L463,176.63 L463.5,175.82 L464,175.14 L464.5,174.67 L465,174.5 L465.5,174.5 L466,174.5 L466.5,174.5 L467,174.5 L467.5,174.5 L468,174.5 L468.5,174.5 L469,174.5 L469.5,174.5 L470,174.5 L470.5,174.5 L471,174.5 L471.5,174.5 L472,174.5 L472.5,174.5 L473,175.15 L473.5,176.87 L474,179.32 L474.5,182.15 L475,185 L475.5,188.5 L476,192.99 L476.5,197.73 L477,201.98 L477.5,205 L478,207.06 L478.5,208.93 L479,210.58 L479.5,212.02 L480,213.24 L480.5,214.24 L481,215 L481.5,215.62 L482,216.18 L482.5,216.7 L483,217.17 L483.5,217.61 L484,218 L484.5,218.36 L485,218.69 L485.5,219 L486,219.28 L486.5,219.53 L487,219.77 L487.5,220 L488,220.22 L488.5,220.44 L489,220.66 L489.5,220.87 L490,221.08 L490.5,221.27 L491,221.44 L491.5,221.6 L492,221.74 L492.5,221.85 L493,221.93 L493.5,221.98 L494,222 L494.5,221.59 L495,220.52 L495.5,218.98 L496,217.2 L496.5,215.39 L497,213.75 L497.5,212.5 L498,211.53 L498.5,210.6 L499,209.72 L499.5,208.87 L500,208.08 L500.5,207.34 L501,206.65 L501.5,206.03 L502,205.48 L502.5,205 L503,204.59 L503.5,204.25 L504,203.96 L504.5,203.71 L505,203.49 L505.5,203.28 L506,203.07 L506.5,202.84 L507,202.58 L507.5,202.28 L508,201.93 L508.5,201.51 L509,201 L509.5,200.22 L510,199.03 L510.5,197.53 L511,195.79 L511.5,193.9 L512,191.94 L512.5,190 L513,187.9 L513.5,185.46 L514,182.79 L514.5,179.96 L515,177.08 L515.5,174.23 L516,171.51 L516.5,169 L517,166.8 L517.5,165 L518,163.42 L518.5,161.83 L519,160.26 L519.5,158.72 L520,157.24 L520.5,155.86 L521,154.58 L521.5,153.43 L522,152.44 L522.5,151.62 L523,151.02 L523.5,150.63 L524,150.5 L524.5,150.65 L525,151.06 L525.5,151.68 L526,152.44 L526.5,153.29 L527,154.16 L527.5,155 L528,155.85 L528.5,156.8 L529,157.83 L529.5,158.93 L530,160.09 L530.5,161.3 L531,162.53 L531.5,163.8 L532,165.07 L532.5,166.33 L533,167.59 L533.5,168.81 L534,170 L534.5,171.18 L535,172.38 L535.5,173.59 L536,174.83 L536.5,176.06 L537,177.31 L537.5,178.55 L538,179.79 L538.5,181.02 L539,182.24 L539.5,183.44 L540,184.61 L540.5,185.76 L541,186.88 L541.5,187.96 L542,189 L542.5,190 L543,190.97 L543.5,191.94 L544,192.9 L544.5,193.85 L545,194.79 L545.5,195.71 L546,196.6 L546.5,197.47 L547,198.31 L547.5,199.12 L548,199.89 L548.5,200.61 L549,201.29 L549.5,201.92 L550,202.5 L550.5,203.05 L551,203.61 L551.5,204.18 L552,204.74 L552.5,205.3 L553,205.84 L553.5,206.38 L554,206.9 L554.5,207.4 L555,207.87 L555.5,208.32 L556,208.74 L556.5,209.12 L557,209.46 L557.5,209.77 L558,210.02 L558.5,210.22 L559,210.37 L559.5,210.47 L560,210.5 L560.5,210.5 L561,210.5 L561.5,210.5 L562,210.5 L562.5,210.5 L563,210.5 L563.5,210.5 L564,210.5 L564.5,210.5 L565,210.5 L565.5,210.5 L566,210.5 L566.5,210.5 L567,210.5 L567.5,210.5 L568,210.5 L568.5,210.5 L569,210.5 L569.5,210.03 L570,208.77 L570.5,206.9 L571,204.64 L571.5,202.19 L572,199.74 L572.5,197.5 L573,194.98 L573.5,191.96 L574,189.06 L574.5,186.87 L575,186 L575.5,186.03 L576,186.11 L576.5,186.25 L577,186.43 L577.5,186.66 L578,186.92 L578.5,187.21 L579,187.53 L579.5,187.88 L580,188.24 L580.5,188.62 L581,189 L581.5,189.47 L582,190.08 L582.5,190.81 L583,191.61 L583.5,192.47 L584,193.34 L584.5,194.19 L585,195 L585.5,195.79 L586,196.6 L586.5,197.43 L587,198.26 L587.5,199.1 L588,199.92 L588.5,200.73 L589,201.52 L589.5,202.28 L590,203 L590.5,203.68 L591,204.31 L591.5,204.92 L592,205.49 L592.5,206.04 L593,206.58 L593.5,207.1 L594,207.61 L594.5,208.12 L595,208.63 L595.5,209.15 L596,209.68 L596.5,210.23 L597,210.81 L597.5,211.41 L598,212.04 L598.5,212.71 L599,213.42 L599.5,214.18 L600,215 L600.5,215.85 L601,216.73 L601.5,217.67 L602,218.67 L602.5,219.78 L603,221 L603.5,222.36 L604,223.88 L604.5,225.59 L605,227.5 L605.5,230.47 L606,234.77 L606.5,239.6 L607,244.11 L607.5,247.5 L608,249.91 L608.5,252.09 L609,254.06 L609.5,255.86 L610,257.52 L610.5,259.08 L611,260.57 L611.5,262.04 L612,263.5 L612.5,265 L613,266.49 L613.5,267.91 L614,269.27 L614.5,270.58 L615,271.86 L615.5,273.12 L616,274.38 L616.5,275.64 L617,276.92 L617.5,278.23 L618,279.59 L618.5,281.01 L619,282.5 L619.5,284.15 L620,285.99 L620.5,287.95 L621,289.99 L621.5,292.02 L622,293.99 L622.5,295.84 L623,297.5 L623.5,298.91 L624,300 L624.5,300.92 L625,301.83 L625.5,302.67 L626,303.4 L626.5,303.98 L627,304.36 L627.5,304.5 L628,304.48 L628.5,304.42 L629,304.31 L629.5,304.17 L630,304 L630.5,303.8 L631,303.57 L631.5,303.31 L632,303.03 L632.5,302.73 L633,302.41 L633.5,302.07 L634,301.72 L634.5,301.37 L635,301 L635.5,300.51 L636,299.79 L636.5,298.9 L637,297.87 L637.5,296.74 L638,295.55 L638.5,294.35 L639,293.18 L639.5,292.07 L640,291.08 L640.5,290.23 L641,289.57 L641.5,289.15 L642,289 L642.5,289.13 L643,289.5 L643.5,290.07 L644,290.79 L644.5,291.64 L645,292.56 L645.5,293.53 L646,294.49 L646.5,295.42 L647,296.27 L647.5,297 L648,297.64 L648.5,298.25 L649,298.84 L649.5,299.4 L650,299.95 L650.5,300.49 L651,301.03 L651.5,301.57 L652,302.12 L652.5,302.69 L653,303.28 L653.5,303.9 L654,304.56 L654.5,305.26 L655,306 L655.5,306.78 L656,307.6 L656.5,308.46 L657,309.38 L657.5,310.39 L658,311.48 L658.5,312.68 L659,314 L659.5,315.75 L660,317.94 L660.5,320.17 L661,322 L661.5,323.52 L662,325.01 L662.5,326.39 L663,327.57 L663.5,328.47 L664,329 L664.5,329.29 L665,329.53 L665.5,329.73 L666,329.9 L666.5,330.04 L667,330.17 L667.5,330.29 L668,330.4 L668.5,330.52 L669,330.66 L669.5,330.81 L670,331 L670.5,331.23 L671,331.5 L671.5,331.8 L672,332.13 L672.5,332.48 L673,332.84 L673.5,333.22 L674,333.59 L674.5,333.96 L675,334.32 L675.5,334.66 L676,334.98 L676.5,335.26 L677,335.51 L677.5,335.72 L678,335.87 L678.5,335.97 L679,336 L679.5,335.94 L680,335.79 L680.5,335.54 L681,335.21 L681.5,334.81 L682,334.35 L682.5,333.84 L683,333.3 L683.5,332.73 L684,332.16 L684.5,331.57 L685,331 L685.5,330.4 L686,329.75 L686.5,329.04 L687,328.26 L687.5,327.44 L688,326.55 L688.5,325.62 L689,324.63 L689.5,323.59 L690,322.5 L690.5,321.28 L691,319.88 L691.5,318.33 L692,316.66 L692.5,314.89 L693,313.06 L693.5,311.21 L694,309.35 L694.5,307.51 L695,305.74 L695.5,304.06 L696,302.5 L696.5,301.02 L697,299.55 L697.5,298.1 L698,296.66 L698.5,295.25 L699,293.87 L699.5,292.51 L700,291.17 L700.5,289.87 L701,288.6 L701.5,287.36 L702,286.16 L702.5,285 L703,283.8 L703.5,282.51 L704,281.18 L704.5,279.84 L705,278.55 L705.5,277.34 L706,276.25 L706.5,275.33 L707,274.62 L707.5,274.16 L708,274 L708.5,274.47 L709,275.74 L709.5,277.56 L710,279.7 L710.5,281.92 L711,284 L711.5,285.97 L712,288.03 L712.5,290.19 L713,292.45 L713.5,294.81 L714,297.27 L714.5,299.83 L715,302.5 L715.5,305.48 L716,308.82 L716.5,312.34 L717,315.84 L717.5,319.13 L718,322 L718.5,324.52 L719,326.89 L719.5,329.12 L720,331.21 L720.5,333.17 L721,335 L721.5,336.82 L722,338.67 L722.5,340.43 L723,341.99 L723.5,343.21 L724,344 L724.5,344.48 L725,344.88 L725.5,345.21 L726,345.48 L726.5,345.72 L727,345.93 L727.5,346.13 L728,346.34 L728.5,346.56 L729,346.82 L729.5,347.13 L730,347.5 L730.5,347.97 L731,348.55 L731.5,349.21 L732,349.92 L732.5,350.67 L733,351.42 L733.5,352.16 L734,352.85 L734.5,353.47 L735,354 L735.5,354.49 L736,355 L736.5,355.5 L737,355.97 L737.5,356.38 L738,356.71 L738.5,356.92 L739,357 L739.5,356.33 L740,354.64 L740.5,352.38 L741,350 L741.5,347.39 L742,344.21 L742.5,340.62 L743,336.75 L743.5,332.76 L744,328.8 L744.5,325 L745,321.15 L745.5,317.05 L746,312.92 L746.5,308.97 L747,305.43 L747.5,302.5 L748,300.04 L748.5,297.75 L749,295.61 L749.5,293.61 L750,291.73 L750.5,289.95 L751,288.26 L751.5,286.64 L752,285.07 L752.5,283.54 L753,282.03 L753.5,280.52 L754,279 L754.5,277.44 L755,275.85 L755.5,274.24 L756,272.65 L756.5,271.09 L757,269.58 L757.5,268.15 L758,266.83 L758.5,265.63 L759,264.57 L759.5,263.69 L760,263 L760.5,262.42 L761,261.85 L761.5,261.31 L762,260.79 L762.5,260.31 L763,259.87 L763.5,259.48 L764,259.15 L764.5,258.87 L765,258.67 L765.5,258.54 L766,258.5 L766.5,258.54 L767,258.67 L767.5,258.88 L768,259.17 L768.5,259.55 L769,260 L769.5,261.63 L770,264.89 L770.5,268.83 L771,272.5 L771.5,275.82 L772,279.27 L772.5,282.76 L773,286.2 L773.5,289.47 L774,292.5 L774.5,295.33 L775,298.07 L775.5,300.7 L776,303.23 L776.5,305.63 L777,307.89 L777.5,310 L778,312.06 L778.5,314.13 L779,316.14 L779.5,318 L780,319.65 L780.5,321.01 L781,322 L781.5,322.72 L782,323.32 L782.5,323.83 L783,324.28 L783.5,324.7 L784,325.11 L784.5,325.53 L785,326 L785.5,326.53 L786,327.1 L786.5,327.71 L787,328.32 L787.5,328.94 L788,329.55 L788.5,330.12 L789,330.65 L789.5,331.12 L790,331.51 L790.5,331.81 L791,332 L791.5,332.13 L792,332.26 L792.5,332.37 L793,332.48 L793.5,332.58 L794,332.68 L794.5,332.76 L795,332.83 L795.5,332.89 L796,332.94 L796.5,332.97 L797,332.99 L797.5,333 L798,332.7 L798.5,331.9 L799,330.75 L799.5,329.4 L800,328 L800.5,326.43 L801,324.44 L801.5,322 L802,318.35 L802.5,313.82 L803,310 L803.5,307.15 L804,304.56 L804.5,302.45 L805,301 L805.5,300.07 L806,299.32 L806.5,298.7 L807,298.18 L807.5,297.7 L808,297.21 L808.5,296.66 L809,296 L809.5,295.3 L810,294.61 L810.5,293.9 L811,293.12 L811.5,292.24 L812,291.21 L812.5,290 L813,288.2 L813.5,285.62 L814,282.51 L814.5,279.13 L815,275.75 L815.5,272.62 L816,270 L816.5,267.72 L817,265.44 L817.5,263.24 L818,261.15 L818.5,259.23 L819,257.53 L819.5,256.11 L820,255 L820.5,254.08 L821,253.19 L821.5,252.34 L822,251.55 L822.5,250.84 L823,250.22 L823.5,249.71 L824,249.33 L824.5,249.08 L825,249 L825.5,249.03 L826,249.12 L826.5,249.27 L827,249.48 L827.5,249.76 L828,250.11 L828.5,250.52 L829,251 L829.5,253 L830,256.99 L830.5,261.49 L831,265 L831.5,267.48 L832,269.84 L832.5,272.06 L833,274.1 L833.5,275.94 L834,277.56 L834.5,278.92 L835,280 L835.5,280.87 L836,281.62 L836.5,282.29 L837,282.88 L837.5,283.42 L838,283.93 L838.5,284.42 L839,284.92 L839.5,285.44 L840,286 L840.5,286.58 L841,287.16 L841.5,287.72 L842,288.28 L842.5,288.83 L843,289.38 L843.5,289.93 L844,290.47 L844.5,291.02 L845,291.57 L845.5,292.12 L846,292.68 L846.5,293.24 L847,293.81 L847.5,294.39 L848,294.99 L848.5,295.59 L849,296.21 L849.5,296.85 L850,297.5 L850.5,298.19 L851,298.94 L851.5,299.72 L852,300.54 L852.5,301.39 L853,302.25 L853.5,303.11 L854,303.96 L854.5,304.81 L855,305.62 L855.5,306.41 L856,307.15 L856.5,307.83 L857,308.45 L857.5,309 L858,309.52 L858.5,310.05 L859,310.58 L859.5,311.1 L860,311.61 L860.5,312.1 L861,312.55 L861.5,312.95 L862,313.3 L862.5,313.59 L863,313.81 L863.5,313.95 L864,314 L864.5,313.96 L865,313.84 L865.5,313.65 L866,313.4 L866.5,313.09 L867,312.74 L867.5,312.34 L868,311.9 L868.5,311.44 L869,310.95 L869.5,310.45 L870,309.94 L870.5,309.43 L871,308.92 L871.5,308.43 L872,307.95 L872.5,307.5 L873,307.06 L873.5,306.6 L874,306.13 L874.5,305.64 L875,305.15 L875.5,304.64 L876,304.13 L876.5,303.61 L877,303.09 L877.5,302.57 L878,302.05 L878.5,301.53 L879,301.02 L879.5,300.5 L880,300 L880.5,299.46 L881,298.86 L881.5,298.22 L882,297.56 L882.5,296.89 L883,296.25 L883.5,295.65 L884,295.11 L884.5,294.66 L885,294.31 L885.5,294.08 L886,294 L886.5,294 L887,294.01 L887.5,294.04 L888,294.07 L888.5,294.14 L889,294.22 L889.5,294.34 L890,294.49 L890.5,294.68 L891,294.92 L891.5,295.2 L892,295.54 L892.5,295.93 L893,296.39 L893.5,296.91 L894,297.5" fill="none" stroke="#d9303f" stroke-width="2.15" stroke-linejoin="round" stroke-linecap="round" clip-path="url(#above)"/>
<path d="M34,220 L34.5,214.83 L35,209.75 L35.5,204.79 L36,200 L36.5,195.3 L37,190.61 L37.5,185.98 L38,181.44 L38.5,177.04 L39,172.81 L39.5,168.78 L40,165 L40.5,161.41 L41,157.94 L41.5,154.6 L42,151.39 L42.5,148.31 L43,145.39 L43.5,142.61 L44,140 L44.5,137.49 L45,135.05 L45.5,132.71 L46,130.5 L46.5,128.46 L47,126.62 L47.5,125 L48,123.51 L48.5,122.06 L49,120.7 L49.5,119.46 L50,118.4 L50.5,117.57 L51,117 L51.5,116.6 L52,116.22 L52.5,115.88 L53,115.58 L53.5,115.34 L54,115.16 L54.5,115.04 L55,115 L55.5,115.07 L56,115.27 L56.5,115.58 L57,116 L57.5,116.5 L58,117.69 L58.5,119.96 L59,122.98 L59.5,126.44 L60,130 L60.5,134.16 L61,139.28 L61.5,144.82 L62,150.24 L62.5,155 L63,159.3 L63.5,163.59 L64,167.69 L64.5,171.41 L65,174.57 L65.5,177 L66,178.82 L66.5,180.33 L67,181.64 L67.5,182.83 L68,184 L68.5,185.14 L69,186.19 L69.5,187.18 L70,188.13 L70.5,189.06 L71,189.99 L71.5,190.94 L72,191.94 L72.5,193 L73,194.14 L73.5,195.33 L74,196.55 L74.5,197.78 L75,199 L75.5,200.23 L76,201.5 L76.5,202.8 L77,204.13 L77.5,205.46 L78,206.8 L78.5,208.13 L79,209.43 L79.5,210.7 L80,211.93 L80.5,213.1 L81,214.2 L81.5,215.23 L82,216.16 L82.5,217 L83,217.8 L83.5,218.63 L84,219.45 L84.5,220.24 L85,220.98 L85.5,221.64 L86,222.2 L86.5,222.63 L87,222.9 L87.5,223 L88,222.98 L88.5,222.91 L89,222.79 L89.5,222.63 L90,222.42 L90.5,222.17 L91,221.86 L91.5,221.51 L92,221.11 L92.5,220.66 L93,220.16 L93.5,219.6 L94,219 L94.5,217.72 L95,215.34 L95.5,212.21 L96,208.65 L96.5,205 L97,200.98 L97.5,196.25 L98,191.03 L98.5,185.54 L99,180 L99.5,174.06 L100,167.79 L100.5,162 L101,156.68 L101.5,151.38 L102,146.23 L102.5,141.38 L103,136.97 L103.5,133.13 L104,130 L104.5,127.35 L105,124.9 L105.5,122.79 L106,121.12 L106.5,120 L107,119.23 L107.5,118.54 L108,118 L108.5,117.63 L109,117.5 L109.5,117.53 L110,117.62 L110.5,117.76 L111,117.95 L111.5,118.17 L112,118.43 L112.5,118.71 L113,119 L113.5,119.37 L114,119.88 L114.5,120.51 L115,121.25 L115.5,122.08 L116,123 L116.5,124.07 L117,125.38 L117.5,126.92 L118,128.66 L118.5,130.6 L119,132.73 L119.5,135.03 L120,137.5 L120.5,140.72 L121,144.88 L121.5,149.38 L122,153.62 L122.5,157 L123,159.69 L123.5,162.26 L124,164.71 L124.5,167.01 L125,169.15 L125.5,171.12 L126,172.9 L126.5,174.49 L127,175.86 L127.5,177 L128,177.97 L128.5,178.83 L129,179.61 L129.5,180.3 L130,180.92 L130.5,181.48 L131,182 L131.5,182.46 L132,182.85 L132.5,183.2 L133,183.53 L133.5,183.85 L134,184.19 L134.5,184.57 L135,185 L135.5,185.47 L136,185.96 L136.5,186.47 L137,187.03 L137.5,187.65 L138,188.34 L138.5,189.12 L139,190 L139.5,191.21 L140,192.87 L140.5,194.83 L141,196.92 L141.5,199 L142,200.91 L142.5,202.5 L143,203.9 L143.5,205.17 L144,206 L144.5,206.49 L145,206.86 L145.5,207 L146,206.85 L146.5,206.49 L147,206 L147.5,205.43 L148,204.54 L148.5,203.44 L149,202.23 L149.5,201.05 L150,200 L150.5,199.05 L151,198.1 L151.5,197.14 L152,196.19 L152.5,195.24 L153,194.31 L153.5,193.39 L154,192.5 L154.5,191.65 L155,190.83 L155.5,190.05 L156,189.33 L156.5,188.66 L157,188.04 L157.5,187.5 L158,187 L158.5,186.53 L159,186.09 L159.5,185.66 L160,185.26 L160.5,184.87 L161,184.5 L161.5,184.15 L162,183.81 L162.5,183.49 L163,183.17 L163.5,182.87 L164,182.57 L164.5,182.28 L165,182 L165.5,181.71 L166,181.42 L166.5,181.12 L167,180.81 L167.5,180.5 L168,180.2 L168.5,179.9 L169,179.6 L169.5,179.32 L170,179.04 L170.5,178.79 L171,178.54 L171.5,178.32 L172,178.12 L172.5,177.94 L173,177.79 L173.5,177.67 L174,177.58 L174.5,177.52 L175,177.5 L175.5,177.75 L176,178.44 L176.5,179.45 L177,180.67 L177.5,182 L178,183.69 L178.5,185.98 L179,188.78 L179.5,192 L180,196.71 L180.5,202.49 L181,207 L181.5,209.93 L182,212.57 L182.5,214.94 L183,217.08 L183.5,219.03 L184,220.81 L184.5,222.47 L185,224.03 L185.5,225.53 L186,227 L186.5,228.46 L187,229.9 L187.5,231.3 L188,232.67 L188.5,234.01 L189,235.3 L189.5,236.55 L190,237.74 L190.5,238.88 L191,239.97 L191.5,240.99 L192,241.94 L192.5,242.82 L193,243.63 L193.5,244.36 L194,245 L194.5,245.6 L195,246.2 L195.5,246.79 L196,247.37 L196.5,247.94 L197,248.49 L197.5,249.03 L198,249.55 L198.5,250.04 L199,250.5 L199.5,250.94 L200,251.34 L200.5,251.7 L201,252.03 L201.5,252.31 L202,252.55 L202.5,252.74 L203,252.88 L203.5,252.97 L204,253 L204.5,252.91 L205,252.67 L205.5,252.28 L206,251.76 L206.5,251.13 L207,250.4 L207.5,249.6 L208,248.73 L208.5,247.83 L209,246.89 L209.5,245.94 L210,245 L210.5,243.99 L211,242.84 L211.5,241.57 L212,240.18 L212.5,238.68 L213,237.08 L213.5,235.41 L214,233.66 L214.5,231.85 L215,230 L215.5,228.07 L216,226.02 L216.5,223.85 L217,221.56 L217.5,219.15 L218,216.6 L218.5,213.91 L219,211.09 L219.5,208.12 L220,205 L220.5,201.45 L221,197.33 L221.5,192.88 L222,188.36 L222.5,183.98 L223,180 L223.5,176.09 L224,171.97 L224.5,167.98 L225,164.43 L225.5,161.67 L226,160 L226.5,159.04 L227,158.25 L227.5,157.7 L228,157.5 L228.5,157.5 L229,157.5 L229.5,157.5 L230,157.5 L230.5,157.5 L231,157.5 L231.5,157.5 L232,157.5 L232.5,157.5 L233,157.5 L233.5,157.5 L234,157.5 L234.5,157.5 L235,157.5 L235.5,157.5 L236,157.5 L236.5,158.2 L237,160 L237.5,162.42 L238,165 L238.5,168.07 L239,171.93 L239.5,176.08 L240,180 L240.5,183.56 L241,187.01 L241.5,190.37 L242,193.68 L242.5,197 L243,200.36 L243.5,203.8 L244,207.36 L244.5,211.08 L245,215 L245.5,219.71 L246,225.22 L246.5,230.67 L247,235.21 L247.5,238 L248,239.52 L248.5,240.84 L249,241.99 L249.5,242.98 L250,243.84 L250.5,244.6 L251,245.27 L251.5,245.88 L252,246.45 L252.5,247 L253,247.51 L253.5,247.96 L254,248.35 L254.5,248.71 L255,249.04 L255.5,249.38 L256,249.72 L256.5,250.1 L257,250.52 L257.5,251 L258,251.61 L258.5,252.38 L259,253.27 L259.5,254.25 L260,255.28 L260.5,256.33 L261,257.35 L261.5,258.31 L262,259.18 L262.5,259.92 L263,260.5 L263.5,260.87 L264,261 L264.5,260.83 L265,260.34 L265.5,259.58 L266,258.62 L266.5,257.5 L267,256.28 L267.5,255 L268,253.72 L268.5,252.5 L269,251.38 L269.5,250.42 L270,249.66 L270.5,249.17 L271,249 L271.5,249.12 L272,249.47 L272.5,250.02 L273,250.72 L273.5,251.55 L274,252.48 L274.5,253.47 L275,254.5 L275.5,255.53 L276,256.52 L276.5,257.45 L277,258.28 L277.5,258.98 L278,259.53 L278.5,259.88 L279,260 L279.5,259.83 L280,259.33 L280.5,258.56 L281,257.55 L281.5,256.35 L282,255 L282.5,253.54 L283,252.02 L283.5,250.48 L284,248.96 L284.5,247.5 L285,246.15 L285.5,244.95 L286,243.94 L286.5,243.17 L287,242.67 L287.5,242.5 L288,242.54 L288.5,242.67 L289,242.88 L289.5,243.16 L290,243.51 L290.5,243.93 L291,244.41 L291.5,244.95 L292,245.55 L292.5,246.19 L293,246.88 L293.5,247.61 L294,248.38 L294.5,249.17 L295,250 L295.5,251.12 L296,252.73 L296.5,254.68 L297,256.85 L297.5,259.1 L298,261.3 L298.5,263.31 L299,265 L299.5,266.46 L300,267.87 L300.5,269.23 L301,270.55 L301.5,271.83 L302,273.07 L302.5,274.27 L303,275.44 L303.5,276.59 L304,277.7 L304.5,278.79 L305,279.86 L305.5,280.91 L306,281.95 L306.5,282.97 L307,283.99 L307.5,285 L308,286 L308.5,287 L309,287.98 L309.5,288.96 L310,289.92 L310.5,290.87 L311,291.81 L311.5,292.73 L312,293.64 L312.5,294.54 L313,295.41 L313.5,296.28 L314,297.12 L314.5,297.95 L315,298.76 L315.5,299.55 L316,300.32 L316.5,301.07 L317,301.8 L317.5,302.5 L318,303.2 L318.5,303.9 L319,304.59 L319.5,305.25 L320,305.87 L320.5,306.42 L321,306.91 L321.5,307.3 L322,307.65 L322.5,307.99 L323,308.3 L323.5,308.58 L324,308.8 L324.5,308.95 L325,309 L325.5,308.96 L326,308.84 L326.5,308.67 L327,308.44 L327.5,308.18 L328,307.9 L328.5,307.6 L329,307.25 L329.5,306.81 L330,306.29 L330.5,305.68 L331,305 L331.5,304.2 L332,303.23 L332.5,302.12 L333,300.88 L333.5,299.53 L334,298.08 L334.5,296.57 L335,295 L335.5,293.27 L336,291.28 L336.5,289.1 L337,286.76 L337.5,284.33 L338,281.85 L338.5,279.38 L339,276.96 L339.5,274.65 L340,272.5 L340.5,270.41 L341,268.31 L341.5,266.25 L342,264.3 L342.5,262.53 L343,261 L343.5,259.6 L344,258.36 L344.5,257.6 L345,257.21 L345.5,256.89 L346,256.68 L346.5,256.6 L347,256.6 L347.5,256.6 L348,256.6 L348.5,256.6 L349,256.6 L349.5,256.6 L350,256.6 L350.5,256.6 L351,256.6 L351.5,256.6 L352,256.6 L352.5,256.65 L353,256.79 L353.5,257 L354,257.27 L354.5,257.6 L355,258.23 L355.5,259.3 L356,260.62 L356.5,262 L357,263.55 L357.5,265.4 L358,267.45 L358.5,269.55 L359,271.6 L359.5,273.45 L360,275 L360.5,276.29 L361,277.47 L361.5,278.57 L362,279.58 L362.5,280.54 L363,281.44 L363.5,282.32 L364,283.18 L364.5,284.04 L365,284.91 L365.5,285.81 L366,286.75 L366.5,287.76 L367,288.83 L367.5,290 L368,291.26 L368.5,292.61 L369,294.02 L369.5,295.5 L370,297.03 L370.5,298.59 L371,300.18 L371.5,301.79 L372,303.4 L372.5,305 L373,306.68 L373.5,308.51 L374,310.43 L374.5,312.38 L375,314.33 L375.5,316.2 L376,317.96 L376.5,319.55 L377,320.91 L377.5,322 L378,322.93 L378.5,323.86 L379,324.76 L379.5,325.61 L380,326.41 L380.5,327.13 L381,327.76 L381.5,328.28 L382,328.67 L382.5,328.91 L383,329 L383.5,328.91 L384,328.66 L384.5,328.24 L385,327.69 L385.5,327 L386,326.19 L386.5,325.27 L387,324.26 L387.5,323.17 L388,322 L388.5,320.3 L389,317.72 L389.5,314.39 L390,310.47 L390.5,306.13 L391,301.51 L391.5,296.76 L392,292.04 L392.5,287.5 L393,282.64 L393.5,277.2 L394,271.68 L394.5,266.61 L395,262.5 L395.5,259.15 L396,256.01 L396.5,253.07 L397,250.33 L397.5,247.78 L398,245.4 L398.5,243.19 L399,241.15 L399.5,239.25 L400,237.5 L400.5,235.84 L401,234.22 L401.5,232.67 L402,231.17 L402.5,229.75 L403,228.41 L403.5,227.16 L404,226 L404.5,224.95 L405,224.01 L405.5,223.19 L406,222.5 L406.5,221.88 L407,221.26 L407.5,220.66 L408,220.09 L408.5,219.56 L409,219.06 L409.5,218.62 L410,218.24 L410.5,217.93 L411,217.7 L411.5,217.55 L412,217.5 L412.5,217.94 L413,219.13 L413.5,220.88 L414,222.99 L414.5,225.26 L415,227.5 L415.5,230.11 L416,233.34 L416.5,236.76 L417,239.96 L417.5,242.5 L418,244.55 L418.5,246.53 L419,248.43 L419.5,250.22 L420,251.88 L420.5,253.39 L421,254.72 L421.5,255.87 L422,256.8 L422.5,257.5 L423,258.05 L423.5,258.56 L424,259.03 L424.5,259.46 L425,259.86 L425.5,260.23 L426,260.57 L426.5,260.89 L427,261.18 L427.5,261.46 L428,261.73 L428.5,261.98 L429,262.23 L429.5,262.47 L430,262.71 L430.5,262.95 L431,263.2 L431.5,263.45 L432,263.72 L432.5,264 L433,264.3 L433.5,264.62 L434,264.95 L434.5,265.3 L435,265.65 L435.5,266 L436,266.35 L436.5,266.69 L437,267.03 L437.5,267.35 L438,267.65 L438.5,267.94 L439,268.2 L439.5,268.43 L440,268.62 L440.5,268.78 L441,268.9 L441.5,268.97 L442,269 L442.5,268.93 L443,268.74 L443.5,268.43 L444,268 L444.5,267.47 L445,266.84 L445.5,266.12 L446,265.32 L446.5,264.44 L447,263.5 L447.5,262.5 L448,260.98 L448.5,258.64 L449,255.7 L449.5,252.39 L450,248.94 L450.5,245.56 L451,242.5 L451.5,239.75 L452,237.12 L452.5,234.54 L453,231.94 L453.5,229.26 L454,226.42 L454.5,223.35 L455,220 L455.5,215.87 L456,210.93 L456.5,205.81 L457,201.13 L457.5,197.5 L458,194.68 L458.5,192 L459,189.48 L459.5,187.13 L460,184.97 L460.5,183.02 L461,181.28 L461.5,179.77 L462,178.51 L462.5,177.5 L463,176.63 L463.5,175.82 L464,175.14 L464.5,174.67 L465,174.5 L465.5,174.5 L466,174.5 L466.5,174.5 L467,174.5 L467.5,174.5 L468,174.5 L468.5,174.5 L469,174.5 L469.5,174.5 L470,174.5 L470.5,174.5 L471,174.5 L471.5,174.5 L472,174.5 L472.5,174.5 L473,175.15 L473.5,176.87 L474,179.32 L474.5,182.15 L475,185 L475.5,188.5 L476,192.99 L476.5,197.73 L477,201.98 L477.5,205 L478,207.06 L478.5,208.93 L479,210.58 L479.5,212.02 L480,213.24 L480.5,214.24 L481,215 L481.5,215.62 L482,216.18 L482.5,216.7 L483,217.17 L483.5,217.61 L484,218 L484.5,218.36 L485,218.69 L485.5,219 L486,219.28 L486.5,219.53 L487,219.77 L487.5,220 L488,220.22 L488.5,220.44 L489,220.66 L489.5,220.87 L490,221.08 L490.5,221.27 L491,221.44 L491.5,221.6 L492,221.74 L492.5,221.85 L493,221.93 L493.5,221.98 L494,222 L494.5,221.59 L495,220.52 L495.5,218.98 L496,217.2 L496.5,215.39 L497,213.75 L497.5,212.5 L498,211.53 L498.5,210.6 L499,209.72 L499.5,208.87 L500,208.08 L500.5,207.34 L501,206.65 L501.5,206.03 L502,205.48 L502.5,205 L503,204.59 L503.5,204.25 L504,203.96 L504.5,203.71 L505,203.49 L505.5,203.28 L506,203.07 L506.5,202.84 L507,202.58 L507.5,202.28 L508,201.93 L508.5,201.51 L509,201 L509.5,200.22 L510,199.03 L510.5,197.53 L511,195.79 L511.5,193.9 L512,191.94 L512.5,190 L513,187.9 L513.5,185.46 L514,182.79 L514.5,179.96 L515,177.08 L515.5,174.23 L516,171.51 L516.5,169 L517,166.8 L517.5,165 L518,163.42 L518.5,161.83 L519,160.26 L519.5,158.72 L520,157.24 L520.5,155.86 L521,154.58 L521.5,153.43 L522,152.44 L522.5,151.62 L523,151.02 L523.5,150.63 L524,150.5 L524.5,150.65 L525,151.06 L525.5,151.68 L526,152.44 L526.5,153.29 L527,154.16 L527.5,155 L528,155.85 L528.5,156.8 L529,157.83 L529.5,158.93 L530,160.09 L530.5,161.3 L531,162.53 L531.5,163.8 L532,165.07 L532.5,166.33 L533,167.59 L533.5,168.81 L534,170 L534.5,171.18 L535,172.38 L535.5,173.59 L536,174.83 L536.5,176.06 L537,177.31 L537.5,178.55 L538,179.79 L538.5,181.02 L539,182.24 L539.5,183.44 L540,184.61 L540.5,185.76 L541,186.88 L541.5,187.96 L542,189 L542.5,190 L543,190.97 L543.5,191.94 L544,192.9 L544.5,193.85 L545,194.79 L545.5,195.71 L546,196.6 L546.5,197.47 L547,198.31 L547.5,199.12 L548,199.89 L548.5,200.61 L549,201.29 L549.5,201.92 L550,202.5 L550.5,203.05 L551,203.61 L551.5,204.18 L552,204.74 L552.5,205.3 L553,205.84 L553.5,206.38 L554,206.9 L554.5,207.4 L555,207.87 L555.5,208.32 L556,208.74 L556.5,209.12 L557,209.46 L557.5,209.77 L558,210.02 L558.5,210.22 L559,210.37 L559.5,210.47 L560,210.5 L560.5,210.5 L561,210.5 L561.5,210.5 L562,210.5 L562.5,210.5 L563,210.5 L563.5,210.5 L564,210.5 L564.5,210.5 L565,210.5 L565.5,210.5 L566,210.5 L566.5,210.5 L567,210.5 L567.5,210.5 L568,210.5 L568.5,210.5 L569,210.5 L569.5,210.03 L570,208.77 L570.5,206.9 L571,204.64 L571.5,202.19 L572,199.74 L572.5,197.5 L573,194.98 L573.5,191.96 L574,189.06 L574.5,186.87 L575,186 L575.5,186.03 L576,186.11 L576.5,186.25 L577,186.43 L577.5,186.66 L578,186.92 L578.5,187.21 L579,187.53 L579.5,187.88 L580,188.24 L580.5,188.62 L581,189 L581.5,189.47 L582,190.08 L582.5,190.81 L583,191.61 L583.5,192.47 L584,193.34 L584.5,194.19 L585,195 L585.5,195.79 L586,196.6 L586.5,197.43 L587,198.26 L587.5,199.1 L588,199.92 L588.5,200.73 L589,201.52 L589.5,202.28 L590,203 L590.5,203.68 L591,204.31 L591.5,204.92 L592,205.49 L592.5,206.04 L593,206.58 L593.5,207.1 L594,207.61 L594.5,208.12 L595,208.63 L595.5,209.15 L596,209.68 L596.5,210.23 L597,210.81 L597.5,211.41 L598,212.04 L598.5,212.71 L599,213.42 L599.5,214.18 L600,215 L600.5,215.85 L601,216.73 L601.5,217.67 L602,218.67 L602.5,219.78 L603,221 L603.5,222.36 L604,223.88 L604.5,225.59 L605,227.5 L605.5,230.47 L606,234.77 L606.5,239.6 L607,244.11 L607.5,247.5 L608,249.91 L608.5,252.09 L609,254.06 L609.5,255.86 L610,257.52 L610.5,259.08 L611,260.57 L611.5,262.04 L612,263.5 L612.5,265 L613,266.49 L613.5,267.91 L614,269.27 L614.5,270.58 L615,271.86 L615.5,273.12 L616,274.38 L616.5,275.64 L617,276.92 L617.5,278.23 L618,279.59 L618.5,281.01 L619,282.5 L619.5,284.15 L620,285.99 L620.5,287.95 L621,289.99 L621.5,292.02 L622,293.99 L622.5,295.84 L623,297.5 L623.5,298.91 L624,300 L624.5,300.92 L625,301.83 L625.5,302.67 L626,303.4 L626.5,303.98 L627,304.36 L627.5,304.5 L628,304.48 L628.5,304.42 L629,304.31 L629.5,304.17 L630,304 L630.5,303.8 L631,303.57 L631.5,303.31 L632,303.03 L632.5,302.73 L633,302.41 L633.5,302.07 L634,301.72 L634.5,301.37 L635,301 L635.5,300.51 L636,299.79 L636.5,298.9 L637,297.87 L637.5,296.74 L638,295.55 L638.5,294.35 L639,293.18 L639.5,292.07 L640,291.08 L640.5,290.23 L641,289.57 L641.5,289.15 L642,289 L642.5,289.13 L643,289.5 L643.5,290.07 L644,290.79 L644.5,291.64 L645,292.56 L645.5,293.53 L646,294.49 L646.5,295.42 L647,296.27 L647.5,297 L648,297.64 L648.5,298.25 L649,298.84 L649.5,299.4 L650,299.95 L650.5,300.49 L651,301.03 L651.5,301.57 L652,302.12 L652.5,302.69 L653,303.28 L653.5,303.9 L654,304.56 L654.5,305.26 L655,306 L655.5,306.78 L656,307.6 L656.5,308.46 L657,309.38 L657.5,310.39 L658,311.48 L658.5,312.68 L659,314 L659.5,315.75 L660,317.94 L660.5,320.17 L661,322 L661.5,323.52 L662,325.01 L662.5,326.39 L663,327.57 L663.5,328.47 L664,329 L664.5,329.29 L665,329.53 L665.5,329.73 L666,329.9 L666.5,330.04 L667,330.17 L667.5,330.29 L668,330.4 L668.5,330.52 L669,330.66 L669.5,330.81 L670,331 L670.5,331.23 L671,331.5 L671.5,331.8 L672,332.13 L672.5,332.48 L673,332.84 L673.5,333.22 L674,333.59 L674.5,333.96 L675,334.32 L675.5,334.66 L676,334.98 L676.5,335.26 L677,335.51 L677.5,335.72 L678,335.87 L678.5,335.97 L679,336 L679.5,335.94 L680,335.79 L680.5,335.54 L681,335.21 L681.5,334.81 L682,334.35 L682.5,333.84 L683,333.3 L683.5,332.73 L684,332.16 L684.5,331.57 L685,331 L685.5,330.4 L686,329.75 L686.5,329.04 L687,328.26 L687.5,327.44 L688,326.55 L688.5,325.62 L689,324.63 L689.5,323.59 L690,322.5 L690.5,321.28 L691,319.88 L691.5,318.33 L692,316.66 L692.5,314.89 L693,313.06 L693.5,311.21 L694,309.35 L694.5,307.51 L695,305.74 L695.5,304.06 L696,302.5 L696.5,301.02 L697,299.55 L697.5,298.1 L698,296.66 L698.5,295.25 L699,293.87 L699.5,292.51 L700,291.17 L700.5,289.87 L701,288.6 L701.5,287.36 L702,286.16 L702.5,285 L703,283.8 L703.5,282.51 L704,281.18 L704.5,279.84 L705,278.55 L705.5,277.34 L706,276.25 L706.5,275.33 L707,274.62 L707.5,274.16 L708,274 L708.5,274.47 L709,275.74 L709.5,277.56 L710,279.7 L710.5,281.92 L711,284 L711.5,285.97 L712,288.03 L712.5,290.19 L713,292.45 L713.5,294.81 L714,297.27 L714.5,299.83 L715,302.5 L715.5,305.48 L716,308.82 L716.5,312.34 L717,315.84 L717.5,319.13 L718,322 L718.5,324.52 L719,326.89 L719.5,329.12 L720,331.21 L720.5,333.17 L721,335 L721.5,336.82 L722,338.67 L722.5,340.43 L723,341.99 L723.5,343.21 L724,344 L724.5,344.48 L725,344.88 L725.5,345.21 L726,345.48 L726.5,345.72 L727,345.93 L727.5,346.13 L728,346.34 L728.5,346.56 L729,346.82 L729.5,347.13 L730,347.5 L730.5,347.97 L731,348.55 L731.5,349.21 L732,349.92 L732.5,350.67 L733,351.42 L733.5,352.16 L734,352.85 L734.5,353.47 L735,354 L735.5,354.49 L736,355 L736.5,355.5 L737,355.97 L737.5,356.38 L738,356.71 L738.5,356.92 L739,357 L739.5,356.33 L740,354.64 L740.5,352.38 L741,350 L741.5,347.39 L742,344.21 L742.5,340.62 L743,336.75 L743.5,332.76 L744,328.8 L744.5,325 L745,321.15 L745.5,317.05 L746,312.92 L746.5,308.97 L747,305.43 L747.5,302.5 L748,300.04 L748.5,297.75 L749,295.61 L749.5,293.61 L750,291.73 L750.5,289.95 L751,288.26 L751.5,286.64 L752,285.07 L752.5,283.54 L753,282.03 L753.5,280.52 L754,279 L754.5,277.44 L755,275.85 L755.5,274.24 L756,272.65 L756.5,271.09 L757,269.58 L757.5,268.15 L758,266.83 L758.5,265.63 L759,264.57 L759.5,263.69 L760,263 L760.5,262.42 L761,261.85 L761.5,261.31 L762,260.79 L762.5,260.31 L763,259.87 L763.5,259.48 L764,259.15 L764.5,258.87 L765,258.67 L765.5,258.54 L766,258.5 L766.5,258.54 L767,258.67 L767.5,258.88 L768,259.17 L768.5,259.55 L769,260 L769.5,261.63 L770,264.89 L770.5,268.83 L771,272.5 L771.5,275.82 L772,279.27 L772.5,282.76 L773,286.2 L773.5,289.47 L774,292.5 L774.5,295.33 L775,298.07 L775.5,300.7 L776,303.23 L776.5,305.63 L777,307.89 L777.5,310 L778,312.06 L778.5,314.13 L779,316.14 L779.5,318 L780,319.65 L780.5,321.01 L781,322 L781.5,322.72 L782,323.32 L782.5,323.83 L783,324.28 L783.5,324.7 L784,325.11 L784.5,325.53 L785,326 L785.5,326.53 L786,327.1 L786.5,327.71 L787,328.32 L787.5,328.94 L788,329.55 L788.5,330.12 L789,330.65 L789.5,331.12 L790,331.51 L790.5,331.81 L791,332 L791.5,332.13 L792,332.26 L792.5,332.37 L793,332.48 L793.5,332.58 L794,332.68 L794.5,332.76 L795,332.83 L795.5,332.89 L796,332.94 L796.5,332.97 L797,332.99 L797.5,333 L798,332.7 L798.5,331.9 L799,330.75 L799.5,329.4 L800,328 L800.5,326.43 L801,324.44 L801.5,322 L802,318.35 L802.5,313.82 L803,310 L803.5,307.15 L804,304.56 L804.5,302.45 L805,301 L805.5,300.07 L806,299.32 L806.5,298.7 L807,298.18 L807.5,297.7 L808,297.21 L808.5,296.66 L809,296 L809.5,295.3 L810,294.61 L810.5,293.9 L811,293.12 L811.5,292.24 L812,291.21 L812.5,290 L813,288.2 L813.5,285.62 L814,282.51 L814.5,279.13 L815,275.75 L815.5,272.62 L816,270 L816.5,267.72 L817,265.44 L817.5,263.24 L818,261.15 L818.5,259.23 L819,257.53 L819.5,256.11 L820,255 L820.5,254.08 L821,253.19 L821.5,252.34 L822,251.55 L822.5,250.84 L823,250.22 L823.5,249.71 L824,249.33 L824.5,249.08 L825,249 L825.5,249.03 L826,249.12 L826.5,249.27 L827,249.48 L827.5,249.76 L828,250.11 L828.5,250.52 L829,251 L829.5,253 L830,256.99 L830.5,261.49 L831,265 L831.5,267.48 L832,269.84 L832.5,272.06 L833,274.1 L833.5,275.94 L834,277.56 L834.5,278.92 L835,280 L835.5,280.87 L836,281.62 L836.5,282.29 L837,282.88 L837.5,283.42 L838,283.93 L838.5,284.42 L839,284.92 L839.5,285.44 L840,286 L840.5,286.58 L841,287.16 L841.5,287.72 L842,288.28 L842.5,288.83 L843,289.38 L843.5,289.93 L844,290.47 L844.5,291.02 L845,291.57 L845.5,292.12 L846,292.68 L846.5,293.24 L847,293.81 L847.5,294.39 L848,294.99 L848.5,295.59 L849,296.21 L849.5,296.85 L850,297.5 L850.5,298.19 L851,298.94 L851.5,299.72 L852,300.54 L852.5,301.39 L853,302.25 L853.5,303.11 L854,303.96 L854.5,304.81 L855,305.62 L855.5,306.41 L856,307.15 L856.5,307.83 L857,308.45 L857.5,309 L858,309.52 L858.5,310.05 L859,310.58 L859.5,311.1 L860,311.61 L860.5,312.1 L861,312.55 L861.5,312.95 L862,313.3 L862.5,313.59 L863,313.81 L863.5,313.95 L864,314 L864.5,313.96 L865,313.84 L865.5,313.65 L866,313.4 L866.5,313.09 L867,312.74 L867.5,312.34 L868,311.9 L868.5,311.44 L869,310.95 L869.5,310.45 L870,309.94 L870.5,309.43 L871,308.92 L871.5,308.43 L872,307.95 L872.5,307.5 L873,307.06 L873.5,306.6 L874,306.13 L874.5,305.64 L875,305.15 L875.5,304.64 L876,304.13 L876.5,303.61 L877,303.09 L877.5,302.57 L878,302.05 L878.5,301.53 L879,301.02 L879.5,300.5 L880,300 L880.5,299.46 L881,298.86 L881.5,298.22 L882,297.56 L882.5,296.89 L883,296.25 L883.5,295.65 L884,295.11 L884.5,294.66 L885,294.31 L885.5,294.08 L886,294 L886.5,294 L887,294.01 L887.5,294.04 L888,294.07 L888.5,294.14 L889,294.22 L889.5,294.34 L890,294.49 L890.5,294.68 L891,294.92 L891.5,295.2 L892,295.54 L892.5,295.93 L893,296.39 L893.5,296.91 L894,297.5" fill="none" stroke="#45aed3" stroke-width="2.15" stroke-linejoin="round" stroke-linecap="round" clip-path="url(#below)"/>
<g shape-rendering="crispEdges">
<line x1="31" y1="431" x2="31" y2="460" stroke="#d4d4d4" stroke-width="1"/>
<line x1="38.41" y1="431" x2="38.41" y2="460" stroke="#d4d4d4" stroke-width="1"/>
<line x1="45.82" y1="431" x2="45.82" y2="460" stroke="#d4d4d4" stroke-width="1"/>
<line x1="53.23" y1="431" x2="53.23" y2="460" stroke="#d4d4d4" stroke-width="1"/>
<line x1="60.64" y1="431" x2="60.64" y2="460" stroke="#d4d4d4" stroke-width="1"/>
<line x1="68.05" y1="431" x2="68.05" y2="460" stroke="#d4d4d4" stroke-width="1"/>
<line x1="75.46" y1="431" x2="75.46" y2="460" stroke="#d4d4d4" stroke-width="1"/>
<line x1="82.87" y1="431" x2="82.87" y2="460" stroke="#d4d4d4" stroke-width="1"/>
<line x1="90.28" y1="431" x2="90.28" y2="460" stroke="#d4d4d4" stroke-width="1"/>
<line x1="97.69" y1="431" x2="97.69" y2="460" stroke="#d4d4d4" stroke-width="1"/>
<line x1="105.1" y1="431" x2="105.1" y2="460" stroke="#d4d4d4" stroke-width="1"/>
<line x1="112.51" y1="431" x2="112.51" y2="460" stroke="#d4d4d4" stroke-width="1"/>
<line x1="119.92" y1="431" x2="119.92" y2="460" stroke="#d4d4d4" stroke-width="1"/>
<line x1="127.33" y1="431" x2="127.33" y2="460" stroke="#d4d4d4" stroke-width="1"/>
<line x1="134.74" y1="431" x2="134.74" y2="460" stroke="#d4d4d4" stroke-width="1"/>
<line x1="142.15" y1="431" x2="142.15" y2="460" stroke="#d4d4d4" stroke-width="1"/>
<line x1="149.56" y1="431" x2="149.56" y2="460" stroke="#d4d4d4" stroke-width="1"/>
<line x1="156.97" y1="431" x2="156.97" y2="460" stroke="#d4d4d4" stroke-width="1"/>
<line x1="164.38" y1="431" x2="164.38" y2="460" stroke="#d4d4d4" stroke-width="1"/>
<line x1="171.79" y1="431" x2="171.79" y2="460" stroke="#d4d4d4" stroke-width="1"/>
<line x1="179.2" y1="431" x2="179.2" y2="460" stroke="#d4d4d4" stroke-width="1"/>
<line x1="186.61" y1="431" x2="186.61" y2="460" stroke="#d4d4d4" stroke-width="1"/>
<line x1="194.02" y1="431" x2="194.02" y2="460" stroke="#d4d4d4" stroke-width="1"/>
<line x1="201.43" y1="431" x2="201.43" y2="460" stroke="#d4d4d4" stroke-width="1"/>
<line x1="208.84" y1="431" x2="208.84" y2="460" stroke="#d4d4d4" stroke-width="1"/>
<line x1="216.25" y1="431" x2="216.25" y2="460" stroke="#d4d4d4" stroke-width="1"/>
<line x1="223.66" y1="431" x2="223.66" y2="460" stroke="#d4d4d4" stroke-width="1"/>
<line x1="231.07" y1="431" x2="231.07" y2="460" stroke="#d4d4d4" stroke-width="1"/>
<line x1="238.48" y1="431" x2="238.48" y2="460" stroke="#d4d4d4" stroke-width="1"/>
<line x1="245.89" y1="431" x2="245.89" y2="460" stroke="#d4d4d4" stroke-width="1"/>
<line x1="253.3" y1="431" x2="253.3" y2="460" stroke="#d4d4d4" stroke-width="1"/>
<line x1="260.71" y1="431" x2="260.71" y2="460" stroke="#d4d4d4" stroke-width="1"/>
<line x1="268.12" y1="431" x2="268.12" y2="460" stroke="#d4d4d4" stroke-width="1"/>
<line x1="275.53" y1="431" x2="275.53" y2="460" stroke="#d4d4d4" stroke-width="1"/>
<line x1="282.94" y1="431" x2="282.94" y2="460" stroke="#d4d4d4" stroke-width="1"/>
<line x1="290.35" y1="431" x2="290.35" y2="460" stroke="#d4d4d4" stroke-width="1"/>
<line x1="297.76" y1="431" x2="297.76" y2="460" stroke="#d4d4d4" stroke-width="1"/>
<line x1="305.17" y1="431" x2="305.17" y2="460" stroke="#d4d4d4" stroke-width="1"/>
<line x1="312.58" y1="431" x2="312.58" y2="460" stroke="#d4d4d4" stroke-width="1"/>
<line x1="319.99" y1="431" x2="319.99" y2="460" stroke="#d4d4d4" stroke-width="1"/>
<line x1="327.4" y1="431" x2="327.4" y2="460" stroke="#d4d4d4" stroke-width="1"/>
<line x1="334.81" y1="431" x2="334.81" y2="460" stroke="#d4d4d4" stroke-width="1"/>
<line x1="342.22" y1="431" x2="342.22" y2="460" stroke="#d4d4d4" stroke-width="1"/>
<line x1="349.63" y1="431" x2="349.63" y2="460" stroke="#d4d4d4" stroke-width="1"/>
<line x1="357.04" y1="431" x2="357.04" y2="460" stroke="#d4d4d4" stroke-width="1"/>
<line x1="364.45" y1="431" x2="364.45" y2="460" stroke="#d4d4d4" stroke-width="1"/>
<line x1="371.86" y1="431" x2="371.86" y2="460" stroke="#d4d4d4" stroke-width="1"/>
<line x1="379.27" y1="431" x2="379.27" y2="460" stroke="#d4d4d4" stroke-width="1"/>
<line x1="386.68" y1="431" x2="386.68" y2="460" stroke="#d4d4d4" stroke-width="1"/>
<line x1="394.09" y1="431" x2="394.09" y2="460" stroke="#d4d4d4" stroke-width="1"/>
<line x1="401.5" y1="431" x2="401.5" y2="460" stroke="#d4d4d4" stroke-width="1"/>
<line x1="408.91" y1="431" x2="408.91" y2="460" stroke="#d4d4d4" stroke-width="1"/>
<line x1="416.32" y1="431" x2="416.32" y2="460" stroke="#d4d4d4" stroke-width="1"/>
<line x1="423.73" y1="431" x2="423.73" y2="460" stroke="#d4d4d4" stroke-width="1"/>
<line x1="431.14" y1="431" x2="431.14" y2="460" stroke="#d4d4d4" stroke-width="1"/>
<line x1="438.55" y1="431" x2="438.55" y2="460" stroke="#d4d4d4" stroke-width="1"/>
<line x1="445.96" y1="431" x2="445.96" y2="460" stroke="#d4d4d4" stroke-width="1"/>
<line x1="453.37" y1="431" x2="453.37" y2="460" stroke="#d4d4d4" stroke-width="1"/>
<line x1="460.78" y1="431" x2="460.78" y2="460" stroke="#d4d4d4" stroke-width="1"/>
<line x1="468.19" y1="431" x2="468.19" y2="460" stroke="#d4d4d4" stroke-width="1"/>
<line x1="475.6" y1="431" x2="475.6" y2="460" stroke="#d4d4d4" stroke-width="1"/>
<line x1="483.01" y1="431" x2="483.01" y2="460" stroke="#d4d4d4" stroke-width="1"/>
<line x1="490.42" y1="431" x2="490.42" y2="460" stroke="#d4d4d4" stroke-width="1"/>
<line x1="497.83" y1="431" x2="497.83" y2="460" stroke="#d4d4d4" stroke-width="1"/>
<line x1="505.24" y1="431" x2="505.24" y2="460" stroke="#d4d4d4" stroke-width="1"/>
<line x1="512.65" y1="431" x2="512.65" y2="460" stroke="#d4d4d4" stroke-width="1"/>
<line x1="520.06" y1="431" x2="520.06" y2="460" stroke="#d4d4d4" stroke-width="1"/>
<line x1="527.47" y1="431" x2="527.47" y2="460" stroke="#d4d4d4" stroke-width="1"/>
<line x1="534.88" y1="431" x2="534.88" y2="460" stroke="#d4d4d4" stroke-width="1"/>
<line x1="542.29" y1="431" x2="542.29" y2="460" stroke="#d4d4d4" stroke-width="1"/>
<line x1="549.7" y1="431" x2="549.7" y2="460" stroke="#d4d4d4" stroke-width="1"/>
<line x1="557.11" y1="431" x2="557.11" y2="460" stroke="#d4d4d4" stroke-width="1"/>
<line x1="564.52" y1="431" x2="564.52" y2="460" stroke="#d4d4d4" stroke-width="1"/>
<line x1="571.93" y1="431" x2="571.93" y2="460" stroke="#d4d4d4" stroke-width="1"/>
<line x1="579.34" y1="431" x2="579.34" y2="460" stroke="#d4d4d4" stroke-width="1"/>
<line x1="586.75" y1="431" x2="586.75" y2="460" stroke="#d4d4d4" stroke-width="1"/>
<line x1="594.16" y1="431" x2="594.16" y2="460" stroke="#d4d4d4" stroke-width="1"/>
<line x1="601.57" y1="431" x2="601.57" y2="460" stroke="#d4d4d4" stroke-width="1"/>
<line x1="608.98" y1="431" x2="608.98" y2="460" stroke="#d4d4d4" stroke-width="1"/>
<line x1="616.39" y1="431" x2="616.39" y2="460" stroke="#d4d4d4" stroke-width="1"/>
<line x1="623.8" y1="431" x2="623.8" y2="460" stroke="#d4d4d4" stroke-width="1"/>
<line x1="631.21" y1="431" x2="631.21" y2="460" stroke="#d4d4d4" stroke-width="1"/>
<line x1="638.62" y1="431" x2="638.62" y2="460" stroke="#d4d4d4" stroke-width="1"/>
<line x1="646.03" y1="431" x2="646.03" y2="460" stroke="#d4d4d4" stroke-width="1"/>
<line x1="653.44" y1="431" x2="653.44" y2="460" stroke="#d4d4d4" stroke-width="1"/>
<line x1="660.85" y1="431" x2="660.85" y2="460" stroke="#d4d4d4" stroke-width="1"/>
<line x1="668.26" y1="431" x2="668.26" y2="460" stroke="#d4d4d4" stroke-width="1"/>
<line x1="675.67" y1="431" x2="675.67" y2="460" stroke="#d4d4d4" stroke-width="1"/>
<line x1="683.08" y1="431" x2="683.08" y2="460" stroke="#d4d4d4" stroke-width="1"/>
<line x1="690.49" y1="431" x2="690.49" y2="460" stroke="#d4d4d4" stroke-width="1"/>
<line x1="697.9" y1="431" x2="697.9" y2="460" stroke="#d4d4d4" stroke-width="1"/>
<line x1="705.31" y1="431" x2="705.31" y2="460" stroke="#d4d4d4" stroke-width="1"/>
<line x1="712.72" y1="431" x2="712.72" y2="460" stroke="#d4d4d4" stroke-width="1"/>
<line x1="720.13" y1="431" x2="720.13" y2="460" stroke="#d4d4d4" stroke-width="1"/>
<line x1="727.54" y1="431" x2="727.54" y2="460" stroke="#d4d4d4" stroke-width="1"/>
<line x1="734.95" y1="431" x2="734.95" y2="460" stroke="#d4d4d4" stroke-width="1"/>
<line x1="742.36" y1="431" x2="742.36" y2="460" stroke="#d4d4d4" stroke-width="1"/>
<line x1="749.77" y1="431" x2="749.77" y2="460" stroke="#d4d4d4" stroke-width="1"/>
<line x1="757.18" y1="431" x2="757.18" y2="460" stroke="#d4d4d4" stroke-width="1"/>
<line x1="764.59" y1="431" x2="764.59" y2="460" stroke="#d4d4d4" stroke-width="1"/>
<line x1="772" y1="431" x2="772" y2="460" stroke="#d4d4d4" stroke-width="1"/>
<line x1="779.41" y1="431" x2="779.41" y2="460" stroke="#d4d4d4" stroke-width="1"/>
<line x1="786.82" y1="431" x2="786.82" y2="460" stroke="#d4d4d4" stroke-width="1"/>
<line x1="794.23" y1="431" x2="794.23" y2="460" stroke="#d4d4d4" stroke-width="1"/>
<line x1="801.64" y1="431" x2="801.64" y2="460" stroke="#d4d4d4" stroke-width="1"/>
<line x1="809.05" y1="431" x2="809.05" y2="460" stroke="#d4d4d4" stroke-width="1"/>
<line x1="816.46" y1="431" x2="816.46" y2="460" stroke="#d4d4d4" stroke-width="1"/>
<line x1="823.87" y1="431" x2="823.87" y2="460" stroke="#d4d4d4" stroke-width="1"/>
<line x1="831.28" y1="431" x2="831.28" y2="460" stroke="#d4d4d4" stroke-width="1"/>
<line x1="838.69" y1="431" x2="838.69" y2="460" stroke="#d4d4d4" stroke-width="1"/>
<line x1="846.1" y1="431" x2="846.1" y2="460" stroke="#d4d4d4" stroke-width="1"/>
<line x1="853.51" y1="431" x2="853.51" y2="460" stroke="#d4d4d4" stroke-width="1"/>
<line x1="860.92" y1="431" x2="860.92" y2="460" stroke="#d4d4d4" stroke-width="1"/>
<line x1="868.33" y1="431" x2="868.33" y2="460" stroke="#d4d4d4" stroke-width="1"/>
<line x1="875.74" y1="431" x2="875.74" y2="460" stroke="#d4d4d4" stroke-width="1"/>
<line x1="883.15" y1="431" x2="883.15" y2="460" stroke="#d4d4d4" stroke-width="1"/>
<line x1="890.56" y1="431" x2="890.56" y2="460" stroke="#d4d4d4" stroke-width="1"/>
</g>
<line x1="31" y1="459" x2="898" y2="459" stroke="#c3c8e6" stroke-width="3" stroke-dasharray="1,1.47"/>
<line x1="31" y1="460.5" x2="898" y2="460.5" stroke="#d4d8ee" stroke-width="1"/>
<g stroke="#111" stroke-width="2.0" fill="none" stroke-linecap="butt" stroke-linejoin="miter">
<line x1="46.3" y1="453.1" x2="39.42" y2="437.64"/>
<path d="M38.2,434.9 L38.01,441.11 L42.94,438.92 Z" fill="#111" stroke="none"/>
<path d="M46.69,453.97 L43.4,455.43"/>
<line x1="47.07" y1="454.84" x2="46.3" y2="453.1"/>
<line x1="60.2" y1="454" x2="68.6" y2="438.15"/>
<path d="M70,435.5 L64.99,439.18 L69.76,441.71 Z" fill="#111" stroke="none"/>
<path d="M59.76,454.84 L54.01,451.8"/>
<line x1="59.31" y1="455.68" x2="60.2" y2="454"/>
<line x1="90.4" y1="453.1" x2="83.52" y2="437.64"/>
<path d="M82.3,434.9 L82.11,441.11 L87.04,438.92 Z" fill="#111" stroke="none"/>
<path d="M90.79,453.97 L87.5,455.43"/>
<line x1="91.17" y1="454.84" x2="90.4" y2="453.1"/>
<line x1="105.2" y1="454" x2="111.83" y2="438.26"/>
<path d="M113,435.5 L108.34,439.61 L113.31,441.71 Z" fill="#111" stroke="none"/>
<path d="M104.83,454.88 L98.84,452.35"/>
<line x1="104.46" y1="455.75" x2="105.2" y2="454"/>
<line x1="106.4" y1="451.14" x2="103.09" y2="449.74"/>
<line x1="124.3" y1="451.5" x2="137.08" y2="439.82"/>
<path d="M139.3,437.8 L133.34,439.58 L136.99,443.57 Z" fill="#111" stroke="none"/>
<path d="M123.6,452.14 L119.22,447.34"/>
<line x1="122.9" y1="452.78" x2="124.3" y2="451.5"/>
<line x1="158.2" y1="436.2" x2="150.71" y2="451.7"/>
<path d="M149.4,454.4 L154.27,450.53 L149.41,448.18 Z" fill="#111" stroke="none"/>
<line x1="189.4" y1="446.9" x2="205.97" y2="443.16"/>
<path d="M208.9,442.5 L202.84,441.1 L204.03,446.37 Z" fill="#111" stroke="none"/>
<path d="M188.47,447.11 L187.68,443.6"/>
<line x1="187.55" y1="447.32" x2="189.4" y2="446.9"/>
<line x1="224" y1="453.5" x2="217.99" y2="438.09"/>
<path d="M216.9,435.3 L216.42,441.5 L221.45,439.54 Z" fill="#111" stroke="none"/>
<path d="M224.35,454.39 L220.99,455.69"/>
<line x1="224.69" y1="455.27" x2="224" y2="453.5"/>
<line x1="237.8" y1="453.5" x2="246.59" y2="438.39"/>
<path d="M248.1,435.8 L242.95,439.28 L247.62,442 Z" fill="#111" stroke="none"/>
<path d="M237.32,454.32 L231.7,451.05"/>
<line x1="236.84" y1="455.14" x2="237.8" y2="453.5"/>
<line x1="265.3" y1="434.3" x2="265.13" y2="452"/>
<path d="M265.1,455 L267.85,449.43 L262.45,449.37 Z" fill="#111" stroke="none"/>
<path d="M265.31,433.35 L271.81,433.41"/>
<line x1="265.32" y1="432.4" x2="265.3" y2="434.3"/>
<line x1="265.27" y1="437.4" x2="268.87" y2="437.43"/>
<line x1="282" y1="436.2" x2="291.1" y2="450.57"/>
<path d="M292.7,453.1 L291.99,446.92 L287.42,449.81 Z" fill="#111" stroke="none"/>
<path d="M281.49,435.4 L286.98,431.92"/>
<line x1="280.98" y1="434.59" x2="282" y2="436.2"/>
<line x1="283.66" y1="438.82" x2="289.15" y2="435.34"/>
<line x1="285.32" y1="441.44" x2="288.36" y2="439.51"/>
<line x1="306" y1="436.2" x2="312.32" y2="451.04"/>
<path d="M313.5,453.8 L313.79,447.59 L308.82,449.71 Z" fill="#111" stroke="none"/>
<path d="M305.63,435.33 L311.61,432.78"/>
<line x1="305.26" y1="434.45" x2="306" y2="436.2"/>
<line x1="307.22" y1="439.05" x2="313.19" y2="436.5"/>
<line x1="308.43" y1="441.9" x2="311.74" y2="440.49"/>
<line x1="325.4" y1="436.8" x2="336.15" y2="450.54"/>
<path d="M338,452.9 L336.67,446.83 L332.42,450.15 Z" fill="#111" stroke="none"/>
<path d="M324.81,436.05 L329.93,432.05"/>
<line x1="324.23" y1="435.3" x2="325.4" y2="436.8"/>
<line x1="353" y1="434.3" x2="354.45" y2="451.61"/>
<path d="M354.7,454.6 L356.92,448.79 L351.54,449.24 Z" fill="#111" stroke="none"/>
<path d="M352.92,433.35 L359.4,432.81"/>
<line x1="352.84" y1="432.41" x2="353" y2="434.3"/>
<line x1="367.5" y1="440" x2="383.17" y2="448.56"/>
<path d="M385.8,450 L382.18,444.95 L379.59,449.68 Z" fill="#111" stroke="none"/>
<path d="M366.67,439.54 L369.78,433.84"/>
<line x1="365.83" y1="439.09" x2="367.5" y2="440"/>
<line x1="389.5" y1="447.5" x2="405.54" y2="442.49"/>
<path d="M408.4,441.6 L402.25,440.69 L403.86,445.85 Z" fill="#111" stroke="none"/>
<path d="M388.59,447.78 L387.52,444.35"/>
<line x1="387.69" y1="448.07" x2="389.5" y2="447.5"/>
<line x1="412.2" y1="450.4" x2="426.98" y2="440.92"/>
<path d="M429.5,439.3 L423.33,440.05 L426.24,444.6 Z" fill="#111" stroke="none"/>
<path d="M411.4,450.91 L407.89,445.44"/>
<line x1="410.6" y1="451.43" x2="412.2" y2="450.4"/>
<line x1="434.4" y1="449.6" x2="449.49" y2="441.08"/>
<path d="M452.1,439.6 L445.9,440 L448.55,444.71 Z" fill="#111" stroke="none"/>
<path d="M433.57,450.07 L430.38,444.41"/>
<line x1="432.75" y1="450.53" x2="434.4" y2="449.6"/>
<line x1="455.8" y1="448.4" x2="471.7" y2="442.28"/>
<path d="M474.5,441.2 L468.3,440.69 L470.24,445.73 Z" fill="#111" stroke="none"/>
<path d="M454.91,448.74 L452.58,442.68"/>
<line x1="454.03" y1="449.08" x2="455.8" y2="448.4"/>
<line x1="458.69" y1="447.29" x2="456.36" y2="441.22"/>
<line x1="461.59" y1="446.17" x2="460.29" y2="442.81"/>
<line x1="479.2" y1="451.3" x2="492.84" y2="440.56"/>
<path d="M495.2,438.7 L489.13,440.04 L492.47,444.29 Z" fill="#111" stroke="none"/>
<path d="M478.45,451.89 L474.43,446.78"/>
<line x1="477.71" y1="452.48" x2="479.2" y2="451.3"/>
<line x1="504" y1="451.9" x2="514.68" y2="439.1"/>
<path d="M516.6,436.8 L510.94,439.37 L515.09,442.83 Z" fill="#111" stroke="none"/>
<path d="M503.39,452.63 L498.4,448.46"/>
<line x1="502.78" y1="453.36" x2="504" y2="451.9"/>
<line x1="505.99" y1="449.52" x2="503.22" y2="447.21"/>
<line x1="524.2" y1="451.3" x2="537.59" y2="440.21"/>
<path d="M539.9,438.3 L533.86,439.79 L537.31,443.95 Z" fill="#111" stroke="none"/>
<path d="M523.47,451.91 L519.32,446.9"/>
<line x1="522.74" y1="452.51" x2="524.2" y2="451.3"/>
<line x1="526.59" y1="449.32" x2="522.44" y2="444.32"/>
<line x1="528.98" y1="447.35" x2="526.68" y2="444.57"/>
<line x1="545.4" y1="441.2" x2="561.68" y2="447.08"/>
<path d="M564.5,448.1 L560.15,443.66 L558.32,448.74 Z" fill="#111" stroke="none"/>
<path d="M544.51,440.88 L545.73,437.49"/>
<line x1="543.61" y1="440.55" x2="545.4" y2="441.2"/>
<line x1="569.5" y1="437.4" x2="581.37" y2="450.29"/>
<path d="M583.4,452.5 L581.59,446.55 L577.62,450.21 Z" fill="#111" stroke="none"/>
<line x1="596.6" y1="436.2" x2="600.47" y2="451.69"/>
<path d="M601.2,454.6 L602.46,448.51 L597.22,449.82 Z" fill="#111" stroke="none"/>
<path d="M596.37,435.28 L599.86,434.41"/>
<line x1="596.14" y1="434.36" x2="596.6" y2="436.2"/>
<line x1="618.9" y1="434.9" x2="621.8" y2="452.04"/>
<path d="M622.3,455 L624.03,449.03 L618.7,449.93 Z" fill="#111" stroke="none"/>
<path d="M618.74,433.96 L625.15,432.88"/>
<line x1="618.58" y1="433.03" x2="618.9" y2="434.9"/>
<line x1="619.42" y1="437.96" x2="622.97" y2="437.36"/>
<line x1="643.1" y1="434.5" x2="643.1" y2="452"/>
<path d="M643.1,455 L645.8,449.4 L640.4,449.4 Z" fill="#111" stroke="none"/>
<path d="M643.1,433.55 L649.6,433.55"/>
<line x1="643.1" y1="432.6" x2="643.1" y2="434.5"/>
<line x1="643.1" y1="437.6" x2="649.6" y2="437.6"/>
<line x1="643.1" y1="440.7" x2="646.7" y2="440.7"/>
<line x1="666.3" y1="435.3" x2="664.52" y2="452.02"/>
<path d="M664.2,455 L667.48,449.72 L662.11,449.15 Z" fill="#111" stroke="none"/>
<path d="M666.4,434.36 L672.86,435.04"/>
<line x1="666.5" y1="433.41" x2="666.3" y2="435.3"/>
<line x1="665.97" y1="438.38" x2="669.55" y2="438.76"/>
<line x1="687.7" y1="434.5" x2="688.21" y2="452"/>
<path d="M688.3,455 L690.84,449.32 L685.44,449.48 Z" fill="#111" stroke="none"/>
<path d="M687.67,433.55 L694.17,433.36"/>
<line x1="687.64" y1="432.6" x2="687.7" y2="434.5"/>
<line x1="687.79" y1="437.6" x2="694.29" y2="437.41"/>
<line x1="687.88" y1="440.7" x2="691.48" y2="440.59"/>
<line x1="709.7" y1="434.9" x2="709.7" y2="452"/>
<path d="M709.7,455 L712.4,449.4 L707,449.4 Z" fill="#111" stroke="none"/>
<path d="M709.7,433.95 L716.2,433.95"/>
<line x1="709.7" y1="433" x2="709.7" y2="434.9"/>
<line x1="722.3" y1="443.7" x2="739.42" y2="445.83"/>
<path d="M742.4,446.2 L737.18,442.83 L736.51,448.19 Z" fill="#111" stroke="none"/>
<line x1="756.2" y1="453.8" x2="752.48" y2="437.82"/>
<path d="M751.8,434.9 L750.44,440.97 L755.7,439.74 Z" fill="#111" stroke="none"/>
<path d="M756.42,454.73 L752.91,455.54"/>
<line x1="756.63" y1="455.65" x2="756.2" y2="453.8"/>
<line x1="779.4" y1="453.9" x2="774.21" y2="437.66"/>
<path d="M773.3,434.8 L772.43,440.96 L777.58,439.31 Z" fill="#111" stroke="none"/>
<path d="M779.69,454.8 L773.5,456.78"/>
<line x1="779.98" y1="455.71" x2="779.4" y2="453.9"/>
<line x1="807" y1="450.4" x2="792.49" y2="440.67"/>
<path d="M790,439 L793.15,444.36 L796.15,439.88 Z" fill="#111" stroke="none"/>
<line x1="822.4" y1="434.8" x2="820.35" y2="452.22"/>
<path d="M820,455.2 L823.34,449.95 L817.97,449.32 Z" fill="#111" stroke="none"/>
<path d="M822.51,433.86 L828.97,434.62"/>
<line x1="822.62" y1="432.91" x2="822.4" y2="434.8"/>
<line x1="842.3" y1="434.8" x2="843.75" y2="452.21"/>
<path d="M844,455.2 L846.23,449.4 L840.84,449.84 Z" fill="#111" stroke="none"/>
<path d="M842.22,433.85 L848.7,433.31"/>
<line x1="842.14" y1="432.91" x2="842.3" y2="434.8"/>
<line x1="866.2" y1="434.8" x2="864.49" y2="452.21"/>
<path d="M864.2,455.2 L867.43,449.89 L862.06,449.36 Z" fill="#111" stroke="none"/>
<path d="M866.29,433.85 L872.76,434.49"/>
<line x1="866.39" y1="432.91" x2="866.2" y2="434.8"/>
<line x1="888.8" y1="434.8" x2="887.01" y2="452.22"/>
<path d="M886.7,455.2 L889.96,449.91 L884.59,449.35 Z" fill="#111" stroke="none"/>
<path d="M888.9,433.85 L895.36,434.52"/>
<line x1="888.99" y1="432.91" x2="888.8" y2="434.8"/>
<line x1="888.48" y1="437.88" x2="892.06" y2="438.25"/>
</g>
<use href="#cloud" x="47" y="100"/>
<use href="#cloud" x="106" y="98.6"/>
<use href="#cloud" x="61.5" y="150"/>
<use href="#moon" x="121.7" y="146"/>
<use href="#cloud" x="135.9" y="168"/><use href="#drop" x="138.3" y="175.6"/>
<use href="#cloud" x="151.3" y="178"/><use href="#drop" x="148.7" y="182.4"/><use href="#drop" x="155.2" y="182.2"/><use href="#drop" x="149.5" y="185.8"/><use href="#drop" x="156.4" y="185.8"/>
<use href="#cloud" x="165.4" y="162.6"/><use href="#drop" x="162.8" y="167"/><use href="#drop" x="169.3" y="166.8"/><use href="#drop" x="163.6" y="170.4"/><use href="#drop" x="170.5" y="170.4"/>
<use href="#cloud" x="76.5" y="188.5"/>
<use href="#cloud" x="91" y="199.5"/>
<use href="#cloud" x="180" y="196.5"/>
<use href="#cloud" x="225" y="138"/>
<use href="#cloud" x="239" y="179"/>
<use href="#cloud" x="194" y="229.5"/>
<use href="#cloud" x="209" y="218.5"/>
<use href="#cloud" x="253" y="230"/><use href="#drop" x="250.4" y="234.4"/><use href="#drop" x="256.9" y="234.2"/><use href="#drop" x="251.2" y="237.8"/><use href="#drop" x="258.1" y="237.8"/>
<use href="#cloud" x="268.5" y="229"/>
<use href="#cloud" x="283" y="222.5"/>
<use href="#moon" x="302" y="250.6"/>
<use href="#cloud" x="298.6" y="257"/>
<use href="#cloud" x="313.9" y="275.5"/>
<use href="#sun" x="325.4" y="285.2"/>
<use href="#cloud" x="330" y="289.8"/>
<use href="#cloud" x="343.7" y="236.3"/>
<use href="#cloud" x="358.3" y="260.7"/>
<use href="#moon" x="376" y="292.1"/>
<use href="#cloud" x="372.6" y="298.5"/>
<use href="#sun" x="387.4" y="290.3"/>
<use href="#sun" x="399.3" y="205.1"/>
<use href="#cloud" x="403.9" y="209.7"/>
<use href="#cloud" x="417.7" y="232.4"/>
<use href="#cloud" x="433" y="246.5"/>
<use href="#cloud" x="447" y="236"/>
<use href="#cloud" x="461.5" y="154.3"/>
<use href="#cloud" x="476.5" y="191.9"/>
<use href="#cloud" x="491.6" y="203"/>
<use href="#cloud" x="505.6" y="182.9"/>
<use href="#cloud" x="520.6" y="131.3"/>
<use href="#cloud" x="535.7" y="161.9"/>
<use href="#cloud" x="550.7" y="187.9"/><use href="#drop" x="553.1" y="195.5"/>
<use href="#cloud" x="565.2" y="190.4"/><use href="#drop" x="566.2" y="197.4"/>
<use href="#cloud" x="580.8" y="170.4"/><use href="#drop" x="578.2" y="174.8"/><use href="#drop" x="584.7" y="174.6"/><use href="#drop" x="579" y="178.2"/><use href="#drop" x="585.9" y="178.2"/>
<use href="#cloud" x="595.8" y="193"/>
<use href="#cloud" x="610" y="245.3"/>
<use href="#cloud" x="639.4" y="269.4"/><use href="#drop" x="636.8" y="273.8"/><use href="#drop" x="643.3" y="273.6"/><use href="#drop" x="637.6" y="277.2"/><use href="#drop" x="644.5" y="277.2"/>
<use href="#cloud" x="625.4" y="286.2"/><use href="#drop" x="622.8" y="290.6"/><use href="#drop" x="629.3" y="290.4"/><use href="#drop" x="623.6" y="294"/><use href="#drop" x="630.5" y="294"/>
<use href="#cloud" x="654.7" y="289.9"/><use href="#drop" x="652.1" y="294.3"/><use href="#drop" x="658.6" y="294.1"/><use href="#drop" x="652.9" y="297.7"/><use href="#drop" x="659.8" y="297.7"/>
<use href="#cloud" x="669.5" y="312.6"/>
<use href="#ast" x="666.7" y="321.2"/><use href="#ast" x="673.7" y="321.6"/>
<use href="#cloud" x="684.5" y="310.1"/>
<use href="#cloud" x="699.3" y="271.4"/>
<use href="#cloud" x="713.9" y="293.6"/>
<use href="#cloud" x="728.2" y="329.3"/>
<use href="#sun" x="757.5" y="246.3"/>
<use href="#sun" x="742.2" y="303"/>
<use href="#moon" x="773.7" y="286.5"/>
<use href="#moon" x="791.1" y="309.1"/>
<use href="#cloud" x="787.7" y="315.5"/>
<use href="#cloud" x="802.4" y="281.5"/>
<use href="#cloud" x="817.5" y="236.2"/>
<use href="#cloud" x="832.4" y="260"/>
<use href="#cloud" x="847.1" y="277.5"/>
<use href="#cloud" x="862.1" y="293"/>
<use href="#ast" x="859.3" y="301.6"/><use href="#ast" x="866.3" y="302"/>
<use href="#cloud" x="877.1" y="285"/><use href="#drop" x="874.5" y="289.4"/><use href="#drop" x="881" y="289.2"/><use href="#drop" x="875.3" y="292.8"/><use href="#drop" x="882.2" y="292.8"/>
<use href="#cloud" x="892" y="278"/><use href="#drop" x="889.4" y="282.4"/><use href="#drop" x="895.9" y="282.2"/><use href="#drop" x="890.2" y="285.8"/><use href="#drop" x="897.1" y="285.8"/>
<g font-size="9.4" fill="#fff" text-anchor="middle" letter-spacing="-0.3" stroke="#fff" stroke-width="2.6" stroke-linejoin="round"><text x="137" y="417.95">0.3</text><text x="144.41" y="268.88">9.1</text><text x="151.81" y="364.35">3.4</text><text x="159.22" y="406.23">0.9</text><text x="166.63" y="372.73">2.9</text><text x="174.04" y="412.93">0.5</text><text x="233.32" y="417.95">0.3</text><text x="248.14" y="287.3">8.0</text><text x="255.56" y="352.62">4.1</text><text x="262.96" y="158.33">15.7</text><text x="277.79" y="419.62">0.1</text><text x="337.06" y="415.77">0.4</text><text x="351.88" y="421.3">0.1</text><text x="366.71" y="419.12">0.2</text><text x="411.17" y="418.29">0.2</text><text x="455.62" y="421.3">0.1</text><text x="522.32" y="421.3">0.1</text><text x="544.55" y="421.3">0.1</text><text x="559.37" y="406.23">0.9</text><text x="581.6" y="402.88">1.1</text><text x="589.01" y="417.95">0.2</text><text x="611.24" y="421.3">0.1</text><text x="618.65" y="406.23">0.9</text><text x="626.06" y="373.56">2.9</text><text x="633.47" y="399.53">1.3</text><text x="648.29" y="381.6">2.4</text><text x="655.7" y="362.17">3.6</text><text x="663.11" y="255.47">9.9</text><text x="670.52" y="381.6">2.4</text><text x="677.93" y="407.9">0.8</text><text x="714.98" y="421.3">0.1</text><text x="818.72" y="419.62">0.1</text><text x="833.54" y="421.3">0.1</text><text x="855.77" y="419.62">0.1</text><text x="863.18" y="358.99">3.8</text><text x="878" y="352.29">4.2</text><text x="892.82" y="380.1">2.5</text></g>
<g font-size="9.4" fill="#262626" text-anchor="middle" letter-spacing="-0.3" stroke="#262626" stroke-width="0.35"><text x="137" y="417.95">0.3</text><text x="144.41" y="268.88">9.1</text><text x="151.81" y="364.35">3.4</text><text x="159.22" y="406.23">0.9</text><text x="166.63" y="372.73">2.9</text><text x="174.04" y="412.93">0.5</text><text x="233.32" y="417.95">0.3</text><text x="248.14" y="287.3">8.0</text><text x="255.56" y="352.62">4.1</text><text x="262.96" y="158.33">15.7</text><text x="277.79" y="419.62">0.1</text><text x="337.06" y="415.77">0.4</text><text x="351.88" y="421.3">0.1</text><text x="366.71" y="419.12">0.2</text><text x="411.17" y="418.29">0.2</text><text x="455.62" y="421.3">0.1</text><text x="522.32" y="421.3">0.1</text><text x="544.55" y="421.3">0.1</text><text x="559.37" y="406.23">0.9</text><text x="581.6" y="402.88">1.1</text><text x="589.01" y="417.95">0.2</text><text x="611.24" y="421.3">0.1</text><text x="618.65" y="406.23">0.9</text><text x="626.06" y="373.56">2.9</text><text x="633.47" y="399.53">1.3</text><text x="648.29" y="381.6">2.4</text><text x="655.7" y="362.17">3.6</text><text x="663.11" y="255.47">9.9</text><text x="670.52" y="381.6">2.4</text><text x="677.93" y="407.9">0.8</text><text x="714.98" y="421.3">0.1</text><text x="818.72" y="419.62">0.1</text><text x="833.54" y="421.3">0.1</text><text x="855.77" y="419.62">0.1</text><text x="863.18" y="358.99">3.8</text><text x="878" y="352.29">4.2</text><text x="892.82" y="380.1">2.5</text></g>
<g font-size="9.2" fill="#585858" text-anchor="end" letter-spacing="0.6">
<text x="28.6" y="107.6">20°</text>
<text x="28.6" y="161.6">15°</text>
<text x="28.6" y="215.6">10°</text>
<text x="28.6" y="269.6">5°</text>
<text x="28.6" y="323.6">0°</text>
<text x="28.6" y="377.6">−5°</text>
<text x="28.6" y="431.6">−10°</text>
</g>
<g font-size="12" fill="#707070" text-anchor="middle">
<text x="33.7" y="479.7">08</text>
<text x="53.46" y="479.7">16</text>
<text x="73.21" y="479.7">00</text>
<text x="92.97" y="479.7">08</text>
<text x="112.73" y="479.7">16</text>
<text x="132.48" y="479.7">00</text>
<text x="152.24" y="479.7">08</text>
<text x="172" y="479.7">16</text>
<text x="191.75" y="479.7">00</text>
<text x="211.51" y="479.7">08</text>
<text x="231.27" y="479.7">16</text>
<text x="251.02" y="479.7">00</text>
<text x="270.78" y="479.7">08</text>
<text x="290.54" y="479.7">16</text>
<text x="310.29" y="479.7">00</text>
<text x="330.05" y="479.7">08</text>
<text x="349.81" y="479.7">16</text>
<text x="369.56" y="479.7">00</text>
<text x="389.32" y="479.7">08</text>
<text x="409.08" y="479.7">16</text>
<text x="428.83" y="479.7">00</text>
<text x="448.59" y="479.7">08</text>
<text x="468.35" y="479.7">16</text>
<text x="488.1" y="479.7">00</text>
<text x="507.86" y="479.7">08</text>
<text x="527.62" y="479.7">16</text>
<text x="547.37" y="479.7">00</text>
<text x="567.13" y="479.7">08</text>
<text x="586.89" y="479.7">16</text>
<text x="606.64" y="479.7">00</text>
<text x="626.4" y="479.7">08</text>
<text x="646.16" y="479.7">16</text>
<text x="665.91" y="479.7">00</text>
<text x="685.67" y="479.7">08</text>
<text x="705.43" y="479.7">16</text>
<text x="725.18" y="479.7">00</text>
<text x="744.94" y="479.7">08</text>
<text x="764.7" y="479.7">16</text>
<text x="784.45" y="479.7">00</text>
<text x="804.21" y="479.7">08</text>
<text x="823.97" y="479.7">16</text>
<text x="843.72" y="479.7">00</text>
<text x="863.48" y="479.7">08</text>
<text x="883.24" y="479.7">16</text>
</g>
<text transform="translate(77.9,81.3) rotate(-45)" font-size="12.4" fill="#6c6c6c"><tspan font-weight="bold" fill="#555">Fri</tspan> Mar 24</text>
<text transform="translate(137.17,81.3) rotate(-45)" font-size="12.4" fill="#6c6c6c"><tspan font-weight="bold" fill="#555">Sat</tspan> Mar 25</text>
<text transform="translate(196.44,81.3) rotate(-45)" font-size="12.4" fill="#6c6c6c"><tspan font-weight="bold" fill="#555">Sun</tspan> Mar 26</text>
<text transform="translate(255.71,81.3) rotate(-45)" font-size="12.4" fill="#6c6c6c"><tspan font-weight="bold" fill="#555">Mon</tspan> Mar 27</text>
<text transform="translate(314.98,81.3) rotate(-45)" font-size="12.4" fill="#6c6c6c"><tspan font-weight="bold" fill="#555">Tue</tspan> Mar 28</text>
<text transform="translate(374.25,81.3) rotate(-45)" font-size="12.4" fill="#6c6c6c"><tspan font-weight="bold" fill="#555">Wed</tspan> Mar 29</text>
<text transform="translate(433.52,81.3) rotate(-45)" font-size="12.4" fill="#6c6c6c"><tspan font-weight="bold" fill="#555">Thu</tspan> Mar 30</text>
<text transform="translate(492.79,81.3) rotate(-45)" font-size="12.4" fill="#6c6c6c"><tspan font-weight="bold" fill="#555">Fri</tspan> Mar 31</text>
<text transform="translate(552.06,81.3) rotate(-45)" font-size="12.4" fill="#6c6c6c"><tspan font-weight="bold" fill="#555">Sat</tspan> Apr 1</text>
<text transform="translate(611.33,81.3) rotate(-45)" font-size="12.4" fill="#6c6c6c"><tspan font-weight="bold" fill="#555">Sun</tspan> Apr 2</text>
<text transform="translate(670.6,81.3) rotate(-45)" font-size="12.4" fill="#6c6c6c"><tspan font-weight="bold" fill="#555">Mon</tspan> Apr 3</text>
<text transform="translate(729.87,81.3) rotate(-45)" font-size="12.4" fill="#6c6c6c"><tspan font-weight="bold" fill="#555">Tue</tspan> Apr 4</text>
<text transform="translate(789.14,81.3) rotate(-45)" font-size="12.4" fill="#6c6c6c"><tspan font-weight="bold" fill="#555">Wed</tspan> Apr 5</text>
<text transform="translate(848.41,81.3) rotate(-45)" font-size="12.4" fill="#6c6c6c"><tspan font-weight="bold" fill="#555">Thu</tspan> Apr 6</text>
<text x="468" y="22.6" font-size="15" fill="#404040" text-anchor="middle" textLength="300" lengthAdjust="spacingAndGlyphs">GFS Cserszegtomaj (HU) 46.75N, 17.25E</text>
<text x="333" y="36" font-size="12" fill="#6a6a6a" textLength="151" lengthAdjust="spacingAndGlyphs">Init: Thu, 23Mar2023 06Z</text>
<text x="509.4" y="36" font-size="12" fill="#6a6a6a" textLength="31" lengthAdjust="spacingAndGlyphs">05:51</text>
<text x="570.3" y="36" font-size="12" fill="#6a6a6a" textLength="31.5" lengthAdjust="spacingAndGlyphs">18:03</text>
<g transform="translate(496,0)" stroke="#111" fill="#111" stroke-width="1.5"><line x1="-8.9" y1="41.3" x2="8.9" y2="41.3" stroke-width="1.3"/><path d="M-3.6,41 A3.6,3.6 0 0 1 3.6,41" fill="#fff" stroke-width="1.3"/><line x1="-5.21" y1="38.23" x2="-7.42" y2="37.06"/><line x1="-2.86" y1="35.84" x2="-4.07" y2="33.65"/><line x1="0" y1="35.1" x2="0" y2="32.6"/><line x1="2.86" y1="35.84" x2="4.07" y2="33.65"/><line x1="5.21" y1="38.23" x2="7.42" y2="37.06"/><line x1="0" y1="30.6" x2="0" y2="27" stroke-width="1.9"/><path d="M0,24.2 L2.8,27.5 L-2.8,27.5 Z" stroke="none"/></g>
<g transform="translate(554.8,0)" stroke="#111" fill="#111" stroke-width="1.5"><line x1="-8.9" y1="41.3" x2="8.9" y2="41.3" stroke-width="1.3"/><path d="M-3.6,41 A3.6,3.6 0 0 1 3.6,41" fill="#fff" stroke-width="1.3"/><line x1="-5.21" y1="38.23" x2="-7.42" y2="37.06"/><line x1="-2.86" y1="35.84" x2="-4.07" y2="33.65"/><line x1="0" y1="35.1" x2="0" y2="32.6"/><line x1="2.86" y1="35.84" x2="4.07" y2="33.65"/><line x1="5.21" y1="38.23" x2="7.42" y2="37.06"/><line x1="0" y1="24.2" x2="0" y2="28" stroke-width="1.9"/><path d="M0,30.8 L2.8,27.5 L-2.8,27.5 Z" stroke="none"/></g>
</svg>
</body></html>
